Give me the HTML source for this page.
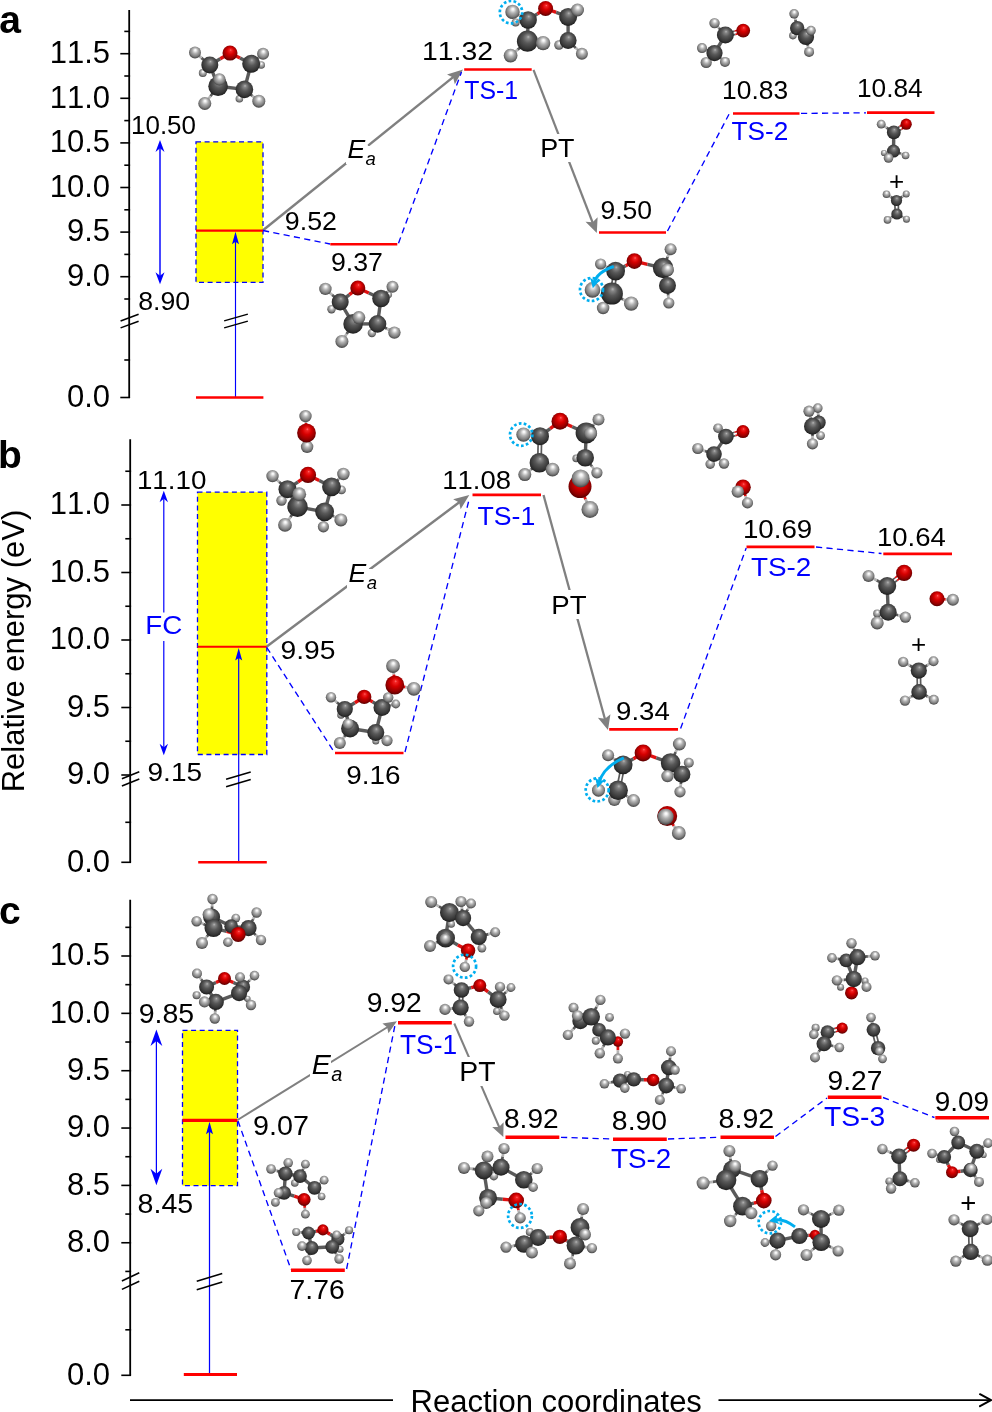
<!DOCTYPE html>
<html lang="en"><head><meta charset="utf-8"><title>Reaction energy profiles</title>
<style>
html,body{margin:0;padding:0;background:#fff}
svg{display:block;font-family:"Liberation Sans",sans-serif;font-kerning:none}
</style></head><body>
<svg width="992" height="1412" viewBox="0 0 992 1412">
<rect width="992" height="1412" fill="#fff"/>
<!-- panel a -->
<text x="-0.77" y="32.80" font-size="39.00" fill="#000" font-weight="bold">a</text>
<rect x="196" y="141.8" width="67" height="140.6" fill="#ffff00"/>
<rect x="196" y="141.8" width="67" height="140.6" fill="none" stroke="#0000ff" stroke-width="1.3" stroke-dasharray="5 3.6"/>
<line x1="129.20" y1="10.00" x2="129.20" y2="397.50" stroke="#000" stroke-width="1.80" stroke-linecap="butt"/>
<line x1="120.30" y1="53.70" x2="130.10" y2="53.70" stroke="#000" stroke-width="1.60" stroke-linecap="butt"/>
<text x="49.74" y="62.90" font-size="31.00" fill="#000">11.5</text>
<line x1="120.30" y1="98.30" x2="130.10" y2="98.30" stroke="#000" stroke-width="1.60" stroke-linecap="butt"/>
<text x="49.66" y="107.50" font-size="31.00" fill="#000">11.0</text>
<line x1="120.30" y1="142.90" x2="130.10" y2="142.90" stroke="#000" stroke-width="1.60" stroke-linecap="butt"/>
<text x="49.74" y="152.10" font-size="31.00" fill="#000">10.5</text>
<line x1="120.30" y1="187.50" x2="130.10" y2="187.50" stroke="#000" stroke-width="1.60" stroke-linecap="butt"/>
<text x="49.66" y="196.70" font-size="31.00" fill="#000">10.0</text>
<line x1="120.30" y1="232.10" x2="130.10" y2="232.10" stroke="#000" stroke-width="1.60" stroke-linecap="butt"/>
<text x="66.98" y="241.30" font-size="31.00" fill="#000">9.5</text>
<line x1="120.30" y1="276.70" x2="130.10" y2="276.70" stroke="#000" stroke-width="1.60" stroke-linecap="butt"/>
<text x="66.90" y="285.90" font-size="31.00" fill="#000">9.0</text>
<line x1="120.30" y1="397.50" x2="130.10" y2="397.50" stroke="#000" stroke-width="1.60" stroke-linecap="butt"/>
<text x="66.90" y="406.70" font-size="31.00" fill="#000">0.0</text>
<line x1="124.30" y1="31.40" x2="130.10" y2="31.40" stroke="#000" stroke-width="1.60" stroke-linecap="butt"/>
<line x1="124.30" y1="76.00" x2="130.10" y2="76.00" stroke="#000" stroke-width="1.60" stroke-linecap="butt"/>
<line x1="124.30" y1="120.60" x2="130.10" y2="120.60" stroke="#000" stroke-width="1.60" stroke-linecap="butt"/>
<line x1="124.30" y1="165.20" x2="130.10" y2="165.20" stroke="#000" stroke-width="1.60" stroke-linecap="butt"/>
<line x1="124.30" y1="209.80" x2="130.10" y2="209.80" stroke="#000" stroke-width="1.60" stroke-linecap="butt"/>
<line x1="124.30" y1="254.40" x2="130.10" y2="254.40" stroke="#000" stroke-width="1.60" stroke-linecap="butt"/>
<line x1="124.30" y1="299.00" x2="130.10" y2="299.00" stroke="#000" stroke-width="1.60" stroke-linecap="butt"/>
<line x1="124.30" y1="360.00" x2="130.10" y2="360.00" stroke="#000" stroke-width="1.60" stroke-linecap="butt"/>
<line x1="120.60" y1="321.00" x2="138.60" y2="314.30" stroke="#000" stroke-width="1.50" stroke-linecap="butt"/>
<line x1="120.60" y1="327.90" x2="138.60" y2="321.20" stroke="#000" stroke-width="1.50" stroke-linecap="butt"/>
<text x="131.05" y="134.00" font-size="26.50" fill="#000" textLength="64.95" lengthAdjust="spacingAndGlyphs">10.50</text>
<text x="138.17" y="309.50" font-size="26.50" fill="#000" textLength="51.86" lengthAdjust="spacingAndGlyphs">8.90</text>
<line x1="160.00" y1="148.00" x2="160.00" y2="277.00" stroke="#0000ff" stroke-width="1.45" stroke-linecap="butt"/>
<polygon points="160.00,139.90 164.50,151.90 160.00,148.30 155.50,151.90" fill="#0000ff"/>
<polygon points="160.00,284.20 155.50,272.20 160.00,275.80 164.50,272.20" fill="#0000ff"/>
<line x1="235.50" y1="397.50" x2="235.50" y2="240.00" stroke="#0000ff" stroke-width="1.15" stroke-linecap="butt"/>
<polygon points="235.50,231.80 239.00,244.30 235.50,241.80 232.00,244.30" fill="#0000ff"/>
<line x1="224.15" y1="320.85" x2="247.85" y2="314.15" stroke="#000" stroke-width="1.50" stroke-linecap="butt"/>
<line x1="224.15" y1="327.85" x2="247.85" y2="321.15" stroke="#000" stroke-width="1.50" stroke-linecap="butt"/>
<line x1="196.00" y1="230.60" x2="263.00" y2="230.60" stroke="#ff0000" stroke-width="2.10" stroke-linecap="butt"/>
<line x1="196.00" y1="397.50" x2="263.40" y2="397.50" stroke="#ff0000" stroke-width="2.60" stroke-linecap="butt"/>
<line x1="263.00" y1="230.30" x2="455.00" y2="75.60" stroke="#808080" stroke-width="2.45" stroke-linecap="butt"/>
<polygon points="463.00,69.60 454.84,84.19 453.10,77.57 447.01,74.45" fill="#808080"/>
<polygon points="346,164 346,139 366,139 368,146 377,146 377,150 366,164" fill="#fff"/>
<text x="347.40" y="158.00" font-size="26.50" fill="#000" font-style="italic">E</text>
<text x="365.59" y="165.00" font-size="18.50" fill="#000" font-style="italic">a</text>
<text x="284.80" y="230.40" font-size="26.50" fill="#000" textLength="52.11" lengthAdjust="spacingAndGlyphs">9.52</text>
<line x1="263.00" y1="230.50" x2="330.00" y2="244.00" stroke="#0000ff" stroke-width="1.35" stroke-dasharray="6.2 4.3" stroke-linecap="butt"/>
<line x1="330.30" y1="244.20" x2="397.30" y2="244.20" stroke="#ff0000" stroke-width="2.65" stroke-linecap="butt"/>
<text x="330.90" y="271.20" font-size="26.50" fill="#000" textLength="52.00" lengthAdjust="spacingAndGlyphs">9.37</text>
<line x1="398.50" y1="243.20" x2="461.50" y2="72.00" stroke="#0000ff" stroke-width="1.35" stroke-dasharray="6.2 4.3" stroke-linecap="butt"/>
<text x="421.97" y="60.00" font-size="26.50" fill="#000" textLength="71.01" lengthAdjust="spacingAndGlyphs">11.32</text>
<line x1="464.20" y1="69.50" x2="531.70" y2="69.50" stroke="#ff0000" stroke-width="2.65" stroke-linecap="butt"/>
<text x="464.30" y="99.30" font-size="26.50" fill="#0000ff" textLength="53.91" lengthAdjust="spacingAndGlyphs">TS-1</text>
<line x1="533.50" y1="69.80" x2="593.20" y2="224.00" stroke="#808080" stroke-width="2.20" stroke-linecap="butt"/>
<polygon points="596.80,233.00 585.50,221.83 592.61,222.19 597.62,217.13" fill="#808080"/>
<rect x="540" y="134" width="37" height="28" fill="#fff"/>
<text x="540.15" y="157.00" font-size="26.50" fill="#000" textLength="34.42" lengthAdjust="spacingAndGlyphs">PT</text>
<text x="600.41" y="218.80" font-size="26.50" fill="#000" textLength="51.62" lengthAdjust="spacingAndGlyphs">9.50</text>
<line x1="599.00" y1="232.50" x2="666.00" y2="232.50" stroke="#ff0000" stroke-width="2.65" stroke-linecap="butt"/>
<line x1="667.50" y1="231.00" x2="729.00" y2="114.30" stroke="#0000ff" stroke-width="1.35" stroke-dasharray="6.2 4.3" stroke-linecap="butt"/>
<text x="722.12" y="98.80" font-size="26.50" fill="#000" textLength="66.03" lengthAdjust="spacingAndGlyphs">10.83</text>
<line x1="733.00" y1="113.50" x2="799.50" y2="113.50" stroke="#ff0000" stroke-width="2.65" stroke-linecap="butt"/>
<text x="731.48" y="140.00" font-size="26.50" fill="#0000ff" textLength="56.80" lengthAdjust="spacingAndGlyphs">TS-2</text>
<line x1="801.00" y1="113.40" x2="866.00" y2="112.80" stroke="#0000ff" stroke-width="1.35" stroke-dasharray="6.2 4.3" stroke-linecap="butt"/>
<text x="857.03" y="97.00" font-size="26.50" fill="#000" textLength="65.72" lengthAdjust="spacingAndGlyphs">10.84</text>
<line x1="867.00" y1="112.60" x2="934.50" y2="112.60" stroke="#ff0000" stroke-width="2.65" stroke-linecap="butt"/>
<text x="888.93" y="189.60" font-size="26.00" fill="#000">+</text>
<!-- panel b -->
<text x="-1.94" y="468.20" font-size="39.00" fill="#000" font-weight="bold">b</text>
<rect x="197.5" y="492.2" width="69.3" height="262.3" fill="#ffff00"/>
<rect x="197.5" y="492.2" width="69.3" height="262.3" fill="none" stroke="#0000ff" stroke-width="1.3" stroke-dasharray="5 3.6"/>
<line x1="130.20" y1="439.30" x2="130.20" y2="862.30" stroke="#000" stroke-width="1.80" stroke-linecap="butt"/>
<line x1="121.30" y1="505.00" x2="131.10" y2="505.00" stroke="#000" stroke-width="1.60" stroke-linecap="butt"/>
<text x="49.66" y="514.20" font-size="31.00" fill="#000">11.0</text>
<line x1="121.30" y1="572.50" x2="131.10" y2="572.50" stroke="#000" stroke-width="1.60" stroke-linecap="butt"/>
<text x="49.74" y="581.70" font-size="31.00" fill="#000">10.5</text>
<line x1="121.30" y1="640.00" x2="131.10" y2="640.00" stroke="#000" stroke-width="1.60" stroke-linecap="butt"/>
<text x="49.66" y="649.20" font-size="31.00" fill="#000">10.0</text>
<line x1="121.30" y1="707.50" x2="131.10" y2="707.50" stroke="#000" stroke-width="1.60" stroke-linecap="butt"/>
<text x="66.98" y="716.70" font-size="31.00" fill="#000">9.5</text>
<line x1="121.30" y1="775.00" x2="131.10" y2="775.00" stroke="#000" stroke-width="1.60" stroke-linecap="butt"/>
<text x="66.90" y="784.20" font-size="31.00" fill="#000">9.0</text>
<line x1="121.30" y1="862.30" x2="131.10" y2="862.30" stroke="#000" stroke-width="1.60" stroke-linecap="butt"/>
<text x="66.90" y="871.50" font-size="31.00" fill="#000">0.0</text>
<line x1="125.30" y1="471.25" x2="131.10" y2="471.25" stroke="#000" stroke-width="1.60" stroke-linecap="butt"/>
<line x1="125.30" y1="538.75" x2="131.10" y2="538.75" stroke="#000" stroke-width="1.60" stroke-linecap="butt"/>
<line x1="125.30" y1="606.25" x2="131.10" y2="606.25" stroke="#000" stroke-width="1.60" stroke-linecap="butt"/>
<line x1="125.30" y1="673.75" x2="131.10" y2="673.75" stroke="#000" stroke-width="1.60" stroke-linecap="butt"/>
<line x1="125.30" y1="741.25" x2="131.10" y2="741.25" stroke="#000" stroke-width="1.60" stroke-linecap="butt"/>
<line x1="125.30" y1="822.30" x2="131.10" y2="822.30" stroke="#000" stroke-width="1.60" stroke-linecap="butt"/>
<line x1="121.90" y1="778.65" x2="139.30" y2="771.65" stroke="#000" stroke-width="1.60" stroke-linecap="butt"/>
<line x1="121.90" y1="785.95" x2="139.30" y2="778.95" stroke="#000" stroke-width="1.60" stroke-linecap="butt"/>
<text x="136.92" y="488.70" font-size="26.50" fill="#000" textLength="69.56" lengthAdjust="spacingAndGlyphs">11.10</text>
<text x="147.54" y="781.30" font-size="26.50" fill="#000" textLength="54.51" lengthAdjust="spacingAndGlyphs">9.15</text>
<line x1="163.80" y1="499.00" x2="163.80" y2="612.50" stroke="#0000ff" stroke-width="1.20" stroke-linecap="butt"/>
<line x1="163.80" y1="641.00" x2="163.80" y2="748.00" stroke="#0000ff" stroke-width="1.20" stroke-linecap="butt"/>
<polygon points="163.80,490.80 168.00,502.30 163.80,498.85 159.60,502.30" fill="#0000ff"/>
<polygon points="163.80,755.30 159.60,743.80 163.80,747.25 168.00,743.80" fill="#0000ff"/>
<text x="145.28" y="634.30" font-size="26.50" fill="#0000ff" textLength="37.06" lengthAdjust="spacingAndGlyphs">FC</text>
<line x1="238.70" y1="862.30" x2="238.70" y2="656.00" stroke="#0000ff" stroke-width="1.20" stroke-linecap="butt"/>
<polygon points="238.70,648.00 242.20,660.50 238.70,658.00 235.20,660.50" fill="#0000ff"/>
<line x1="226.10" y1="779.35" x2="250.70" y2="772.05" stroke="#000" stroke-width="1.60" stroke-linecap="butt"/>
<line x1="226.10" y1="786.75" x2="250.70" y2="779.45" stroke="#000" stroke-width="1.60" stroke-linecap="butt"/>
<line x1="197.50" y1="646.80" x2="266.80" y2="646.80" stroke="#ff0000" stroke-width="2.10" stroke-linecap="butt"/>
<line x1="198.20" y1="862.30" x2="266.80" y2="862.30" stroke="#ff0000" stroke-width="2.60" stroke-linecap="butt"/>
<line x1="266.80" y1="646.40" x2="461.00" y2="501.00" stroke="#808080" stroke-width="2.45" stroke-linecap="butt"/>
<polygon points="469.30,495.00 460.64,509.29 459.13,502.62 453.15,499.29" fill="#808080"/>
<polygon points="347,588 347,562 367,562 369,569 378,569 378,573 367,588" fill="#fff"/>
<text x="348.50" y="581.80" font-size="26.50" fill="#000" font-style="italic">E</text>
<text x="366.69" y="588.80" font-size="18.50" fill="#000" font-style="italic">a</text>
<text x="280.53" y="658.50" font-size="26.50" fill="#000" textLength="54.93" lengthAdjust="spacingAndGlyphs">9.95</text>
<line x1="266.80" y1="647.50" x2="334.50" y2="752.50" stroke="#0000ff" stroke-width="1.35" stroke-dasharray="6.2 4.3" stroke-linecap="butt"/>
<line x1="335.00" y1="753.00" x2="403.50" y2="753.00" stroke="#ff0000" stroke-width="2.65" stroke-linecap="butt"/>
<text x="346.25" y="783.50" font-size="26.50" fill="#000" textLength="54.27" lengthAdjust="spacingAndGlyphs">9.16</text>
<line x1="405.00" y1="752.00" x2="469.50" y2="498.00" stroke="#0000ff" stroke-width="1.35" stroke-dasharray="6.2 4.3" stroke-linecap="butt"/>
<text x="442.24" y="488.50" font-size="26.50" fill="#000" textLength="68.69" lengthAdjust="spacingAndGlyphs">11.08</text>
<line x1="472.50" y1="494.80" x2="541.00" y2="494.80" stroke="#ff0000" stroke-width="2.65" stroke-linecap="butt"/>
<text x="477.47" y="525.00" font-size="26.50" fill="#0000ff" textLength="57.83" lengthAdjust="spacingAndGlyphs">TS-1</text>
<line x1="543.50" y1="495.00" x2="605.20" y2="720.00" stroke="#808080" stroke-width="2.30" stroke-linecap="butt"/>
<polygon points="608.00,730.00 597.89,717.74 604.93,718.81 610.43,714.30" fill="#808080"/>
<rect x="551" y="590" width="37" height="29" fill="#fff"/>
<text x="551.29" y="613.50" font-size="26.50" fill="#000" textLength="35.29" lengthAdjust="spacingAndGlyphs">PT</text>
<text x="616.06" y="719.80" font-size="26.50" fill="#000" textLength="53.73" lengthAdjust="spacingAndGlyphs">9.34</text>
<line x1="609.20" y1="729.40" x2="678.00" y2="729.40" stroke="#ff0000" stroke-width="2.65" stroke-linecap="butt"/>
<line x1="680.60" y1="728.50" x2="746.20" y2="548.00" stroke="#0000ff" stroke-width="1.35" stroke-dasharray="6.2 4.3" stroke-linecap="butt"/>
<text x="742.92" y="537.50" font-size="26.50" fill="#000" textLength="69.36" lengthAdjust="spacingAndGlyphs">10.69</text>
<line x1="746.50" y1="546.80" x2="814.50" y2="546.80" stroke="#ff0000" stroke-width="2.65" stroke-linecap="butt"/>
<text x="750.94" y="576.30" font-size="26.50" fill="#0000ff" textLength="60.41" lengthAdjust="spacingAndGlyphs">TS-2</text>
<line x1="816.00" y1="547.00" x2="881.50" y2="553.50" stroke="#0000ff" stroke-width="1.35" stroke-dasharray="6.2 4.3" stroke-linecap="butt"/>
<text x="876.94" y="545.50" font-size="26.50" fill="#000" textLength="68.85" lengthAdjust="spacingAndGlyphs">10.64</text>
<line x1="883.30" y1="553.80" x2="952.00" y2="553.80" stroke="#ff0000" stroke-width="2.65" stroke-linecap="butt"/>
<text x="910.93" y="653.20" font-size="26.00" fill="#000">+</text>
<!-- panel c -->
<text x="-1.06" y="923.80" font-size="39.00" fill="#000" font-weight="bold">c</text>
<rect x="182.5" y="1030.3" width="55" height="155.4" fill="#ffff00"/>
<rect x="182.5" y="1030.3" width="55" height="155.4" fill="none" stroke="#0000ff" stroke-width="1.3" stroke-dasharray="5 3.6"/>
<line x1="130.20" y1="899.80" x2="130.20" y2="1375.30" stroke="#000" stroke-width="1.80" stroke-linecap="butt"/>
<line x1="121.30" y1="956.00" x2="131.10" y2="956.00" stroke="#000" stroke-width="1.60" stroke-linecap="butt"/>
<text x="49.74" y="965.20" font-size="31.00" fill="#000">10.5</text>
<line x1="121.30" y1="1013.35" x2="131.10" y2="1013.35" stroke="#000" stroke-width="1.60" stroke-linecap="butt"/>
<text x="49.66" y="1022.55" font-size="31.00" fill="#000">10.0</text>
<line x1="121.30" y1="1070.70" x2="131.10" y2="1070.70" stroke="#000" stroke-width="1.60" stroke-linecap="butt"/>
<text x="66.98" y="1079.90" font-size="31.00" fill="#000">9.5</text>
<line x1="121.30" y1="1128.05" x2="131.10" y2="1128.05" stroke="#000" stroke-width="1.60" stroke-linecap="butt"/>
<text x="66.90" y="1137.25" font-size="31.00" fill="#000">9.0</text>
<line x1="121.30" y1="1185.40" x2="131.10" y2="1185.40" stroke="#000" stroke-width="1.60" stroke-linecap="butt"/>
<text x="66.98" y="1194.60" font-size="31.00" fill="#000">8.5</text>
<line x1="121.30" y1="1242.75" x2="131.10" y2="1242.75" stroke="#000" stroke-width="1.60" stroke-linecap="butt"/>
<text x="66.90" y="1251.95" font-size="31.00" fill="#000">8.0</text>
<line x1="121.30" y1="1375.30" x2="131.10" y2="1375.30" stroke="#000" stroke-width="1.60" stroke-linecap="butt"/>
<text x="66.90" y="1384.50" font-size="31.00" fill="#000">0.0</text>
<line x1="125.30" y1="927.33" x2="131.10" y2="927.33" stroke="#000" stroke-width="1.60" stroke-linecap="butt"/>
<line x1="125.30" y1="984.67" x2="131.10" y2="984.67" stroke="#000" stroke-width="1.60" stroke-linecap="butt"/>
<line x1="125.30" y1="1042.03" x2="131.10" y2="1042.03" stroke="#000" stroke-width="1.60" stroke-linecap="butt"/>
<line x1="125.30" y1="1099.38" x2="131.10" y2="1099.38" stroke="#000" stroke-width="1.60" stroke-linecap="butt"/>
<line x1="125.30" y1="1156.72" x2="131.10" y2="1156.72" stroke="#000" stroke-width="1.60" stroke-linecap="butt"/>
<line x1="125.30" y1="1214.08" x2="131.10" y2="1214.08" stroke="#000" stroke-width="1.60" stroke-linecap="butt"/>
<line x1="125.30" y1="1271.42" x2="131.10" y2="1271.42" stroke="#000" stroke-width="1.60" stroke-linecap="butt"/>
<line x1="125.30" y1="1329.80" x2="131.10" y2="1329.80" stroke="#000" stroke-width="1.60" stroke-linecap="butt"/>
<line x1="121.90" y1="1281.00" x2="139.30" y2="1272.80" stroke="#000" stroke-width="1.60" stroke-linecap="butt"/>
<line x1="121.90" y1="1289.40" x2="139.30" y2="1281.20" stroke="#000" stroke-width="1.60" stroke-linecap="butt"/>
<text x="138.72" y="1022.90" font-size="27.40" fill="#000" textLength="55.46" lengthAdjust="spacingAndGlyphs">9.85</text>
<text x="137.59" y="1213.40" font-size="27.40" fill="#000" textLength="55.59" lengthAdjust="spacingAndGlyphs">8.45</text>
<line x1="156.40" y1="1040.00" x2="156.40" y2="1176.00" stroke="#0000ff" stroke-width="1.25" stroke-linecap="butt"/>
<polygon points="156.40,1029.40 162.30,1045.90 156.40,1040.95 150.50,1045.90" fill="#0000ff"/>
<polygon points="156.40,1185.20 150.50,1168.70 156.40,1173.65 162.30,1168.70" fill="#0000ff"/>
<line x1="209.50" y1="1374.00" x2="209.50" y2="1130.00" stroke="#0000ff" stroke-width="1.25" stroke-linecap="butt"/>
<polygon points="209.50,1121.70 213.00,1134.20 209.50,1131.70 206.00,1134.20" fill="#0000ff"/>
<line x1="196.75" y1="1281.15" x2="222.25" y2="1273.45" stroke="#000" stroke-width="1.60" stroke-linecap="butt"/>
<line x1="196.75" y1="1289.75" x2="222.25" y2="1282.05" stroke="#000" stroke-width="1.60" stroke-linecap="butt"/>
<line x1="182.50" y1="1120.30" x2="237.50" y2="1120.30" stroke="#ff0000" stroke-width="3.20" stroke-linecap="butt"/>
<line x1="183.80" y1="1374.50" x2="237.00" y2="1374.50" stroke="#ff0000" stroke-width="3.20" stroke-linecap="butt"/>
<line x1="237.50" y1="1120.00" x2="388.50" y2="1026.50" stroke="#808080" stroke-width="2.00" stroke-linecap="butt"/>
<polygon points="396.90,1021.30 388.45,1033.30 387.14,1027.34 382.40,1023.52" fill="#808080"/>
<polygon points="310,1080 310,1054 330,1054 331,1061 331,1067 322,1080" fill="#fff"/>
<text x="311.75" y="1074.00" font-size="28.50" fill="#000" font-style="italic">E</text>
<text x="331.25" y="1081.00" font-size="20.00" fill="#000" font-style="italic">a</text>
<text x="253.01" y="1134.60" font-size="27.40" fill="#000" textLength="55.89" lengthAdjust="spacingAndGlyphs">9.07</text>
<line x1="238.00" y1="1121.00" x2="291.00" y2="1269.50" stroke="#0000ff" stroke-width="1.35" stroke-dasharray="6.2 4.3" stroke-linecap="butt"/>
<line x1="291.00" y1="1270.30" x2="344.80" y2="1270.30" stroke="#ff0000" stroke-width="3.40" stroke-linecap="butt"/>
<text x="289.58" y="1299.10" font-size="27.40" fill="#000" textLength="55.15" lengthAdjust="spacingAndGlyphs">7.76</text>
<line x1="346.60" y1="1269.00" x2="395.00" y2="1025.00" stroke="#0000ff" stroke-width="1.35" stroke-dasharray="6.2 4.3" stroke-linecap="butt"/>
<text x="366.72" y="1012.10" font-size="27.40" fill="#000" textLength="55.15" lengthAdjust="spacingAndGlyphs">9.92</text>
<line x1="398.00" y1="1022.80" x2="451.80" y2="1022.80" stroke="#ff0000" stroke-width="3.40" stroke-linecap="butt"/>
<text x="399.97" y="1053.90" font-size="27.40" fill="#0000ff" textLength="57.11" lengthAdjust="spacingAndGlyphs">TS-1</text>
<line x1="454.30" y1="1023.50" x2="499.80" y2="1128.50" stroke="#808080" stroke-width="2.00" stroke-linecap="butt"/>
<polygon points="503.30,1137.00 492.18,1127.12 498.99,1127.10 503.64,1122.13" fill="#808080"/>
<rect x="458" y="1057" width="36" height="29" fill="#fff"/>
<text x="459.33" y="1081.40" font-size="27.40" fill="#000" textLength="36.26" lengthAdjust="spacingAndGlyphs">PT</text>
<text x="504.01" y="1127.70" font-size="27.40" fill="#000" textLength="54.66" lengthAdjust="spacingAndGlyphs">8.92</text>
<line x1="505.50" y1="1137.30" x2="559.30" y2="1137.30" stroke="#ff0000" stroke-width="3.40" stroke-linecap="butt"/>
<line x1="561.00" y1="1137.30" x2="612.00" y2="1139.00" stroke="#0000ff" stroke-width="1.35" stroke-dasharray="6.2 4.3" stroke-linecap="butt"/>
<text x="611.89" y="1130.10" font-size="27.40" fill="#000" textLength="55.20" lengthAdjust="spacingAndGlyphs">8.90</text>
<line x1="613.00" y1="1139.30" x2="666.80" y2="1139.30" stroke="#ff0000" stroke-width="3.40" stroke-linecap="butt"/>
<text x="610.94" y="1168.40" font-size="27.40" fill="#0000ff" textLength="60.21" lengthAdjust="spacingAndGlyphs">TS-2</text>
<line x1="668.00" y1="1139.00" x2="719.50" y2="1137.30" stroke="#0000ff" stroke-width="1.35" stroke-dasharray="6.2 4.3" stroke-linecap="butt"/>
<text x="718.59" y="1127.60" font-size="27.40" fill="#000" textLength="55.60" lengthAdjust="spacingAndGlyphs">8.92</text>
<line x1="720.50" y1="1137.30" x2="774.00" y2="1137.30" stroke="#ff0000" stroke-width="3.40" stroke-linecap="butt"/>
<line x1="775.50" y1="1136.50" x2="827.00" y2="1098.00" stroke="#0000ff" stroke-width="1.35" stroke-dasharray="6.2 4.3" stroke-linecap="butt"/>
<text x="827.53" y="1089.50" font-size="27.40" fill="#000" textLength="54.84" lengthAdjust="spacingAndGlyphs">9.27</text>
<line x1="827.80" y1="1097.30" x2="881.50" y2="1097.30" stroke="#ff0000" stroke-width="3.40" stroke-linecap="butt"/>
<text x="823.93" y="1125.60" font-size="27.40" fill="#0000ff" textLength="61.30" lengthAdjust="spacingAndGlyphs">TS-3</text>
<line x1="883.00" y1="1097.50" x2="934.50" y2="1117.50" stroke="#0000ff" stroke-width="1.35" stroke-dasharray="6.2 4.3" stroke-linecap="butt"/>
<text x="934.74" y="1110.90" font-size="27.40" fill="#000" textLength="54.35" lengthAdjust="spacingAndGlyphs">9.09</text>
<line x1="935.30" y1="1117.80" x2="989.00" y2="1117.80" stroke="#ff0000" stroke-width="3.40" stroke-linecap="butt"/>
<text x="960.29" y="1212.20" font-size="27.50" fill="#000">+</text>
<text transform="translate(23.7 792.3) rotate(-90)" font-size="31" fill="#000">Relative energy (eV)</text>
<text x="410.52" y="1411.60" font-size="31.00" fill="#000" textLength="291.37" lengthAdjust="spacingAndGlyphs">Reaction coordinates</text>
<line x1="130.00" y1="1400.20" x2="393.00" y2="1400.20" stroke="#000" stroke-width="1.70" stroke-linecap="butt"/>
<line x1="718.50" y1="1400.20" x2="990.00" y2="1400.20" stroke="#000" stroke-width="1.70" stroke-linecap="butt"/>
<polyline points="980.00,1406.20 991.00,1400.20 980.00,1394.20" fill="none" stroke="#000" stroke-width="2.00" stroke-linejoin="miter" stroke-linecap="round"/>
<defs>
<radialGradient id="gC" cx="0.5" cy="0.45" r="0.58" fx="0.54" fy="0.29">
<stop offset="0" stop-color="#b6b6b6"/><stop offset="0.14" stop-color="#868686"/><stop offset="0.42" stop-color="#585858"/><stop offset="0.78" stop-color="#363636"/><stop offset="1" stop-color="#161616"/></radialGradient>
<radialGradient id="gH" cx="0.5" cy="0.45" r="0.58" fx="0.53" fy="0.29">
<stop offset="0" stop-color="#ffffff"/><stop offset="0.12" stop-color="#f4f4f4"/><stop offset="0.4" stop-color="#b4b4b4"/><stop offset="0.72" stop-color="#808080"/><stop offset="1" stop-color="#383838"/></radialGradient>
<radialGradient id="gO" cx="0.5" cy="0.45" r="0.58" fx="0.55" fy="0.29">
<stop offset="0" stop-color="#ff7474"/><stop offset="0.12" stop-color="#f22424"/><stop offset="0.4" stop-color="#d60000"/><stop offset="0.75" stop-color="#960000"/><stop offset="1" stop-color="#4c0000"/></radialGradient>
</defs>
<g>
<line x1="209.8" y1="65.0" x2="220.3" y2="58.8" stroke="#5a5a5a" stroke-width="3.4"/>
<line x1="220.3" y1="58.8" x2="230.0" y2="53.1" stroke="#e01010" stroke-width="3.4"/>
<line x1="251.2" y1="63.8" x2="240.0" y2="58.1" stroke="#5a5a5a" stroke-width="3.4"/>
<line x1="240.0" y1="58.1" x2="230.0" y2="53.1" stroke="#e01010" stroke-width="3.4"/>
<line x1="209.8" y1="65.0" x2="218.1" y2="86.2" stroke="#5a5a5a" stroke-width="3.4"/>
<line x1="251.2" y1="63.8" x2="244.4" y2="89.4" stroke="#5a5a5a" stroke-width="3.4"/>
<line x1="244.4" y1="89.4" x2="218.1" y2="86.2" stroke="#5a5a5a" stroke-width="3.4"/>
<line x1="209.8" y1="65.0" x2="201.4" y2="57.9" stroke="#5a5a5a" stroke-width="2.7"/>
<line x1="201.4" y1="57.9" x2="195.0" y2="52.5" stroke="#b4b4b4" stroke-width="2.7"/>
<line x1="251.2" y1="63.8" x2="258.3" y2="57.8" stroke="#5a5a5a" stroke-width="2.7"/>
<line x1="258.3" y1="57.8" x2="263.1" y2="53.8" stroke="#b4b4b4" stroke-width="2.7"/>
<line x1="218.1" y1="86.2" x2="210.4" y2="96.2" stroke="#5a5a5a" stroke-width="2.7"/>
<line x1="210.4" y1="96.2" x2="204.8" y2="103.5" stroke="#b4b4b4" stroke-width="2.7"/>
<line x1="244.4" y1="89.4" x2="252.4" y2="96.0" stroke="#5a5a5a" stroke-width="2.7"/>
<line x1="252.4" y1="96.0" x2="258.8" y2="101.2" stroke="#b4b4b4" stroke-width="2.7"/>
<line x1="209.8" y1="65.0" x2="204.8" y2="70.8" stroke="#5a5a5a" stroke-width="2.7"/>
<line x1="204.8" y1="70.8" x2="202.8" y2="73.1" stroke="#b4b4b4" stroke-width="2.7"/>
<line x1="251.2" y1="63.8" x2="258.9" y2="64.7" stroke="#5a5a5a" stroke-width="2.7"/>
<line x1="258.9" y1="64.7" x2="261.2" y2="65.0" stroke="#b4b4b4" stroke-width="2.7"/>
<line x1="244.4" y1="89.4" x2="240.7" y2="96.3" stroke="#5a5a5a" stroke-width="2.7"/>
<line x1="240.7" y1="96.3" x2="239.4" y2="98.8" stroke="#b4b4b4" stroke-width="2.7"/>
<circle cx="202.8" cy="73.1" r="4.0" fill="url(#gH)"/>
<circle cx="261.2" cy="65.0" r="3.8" fill="url(#gH)"/>
<circle cx="239.4" cy="98.8" r="3.8" fill="url(#gH)"/>
<circle cx="209.8" cy="65.0" r="8.5" fill="url(#gC)"/>
<circle cx="251.2" cy="63.8" r="9.0" fill="url(#gC)"/>
<circle cx="230.0" cy="53.1" r="7.5" fill="url(#gO)"/>
<circle cx="244.4" cy="89.4" r="8.8" fill="url(#gC)"/>
<circle cx="218.1" cy="86.2" r="9.8" fill="url(#gC)"/>
<circle cx="195.0" cy="52.5" r="6.0" fill="url(#gH)"/>
<circle cx="263.1" cy="53.8" r="6.0" fill="url(#gH)"/>
<circle cx="219.4" cy="79.4" r="6.2" fill="url(#gH)"/>
<circle cx="204.8" cy="103.5" r="6.5" fill="url(#gH)"/>
<circle cx="258.8" cy="101.2" r="6.5" fill="url(#gH)"/>
</g>
<g>
<line x1="340.2" y1="302.0" x2="349.4" y2="294.7" stroke="#5a5a5a" stroke-width="3.4"/>
<line x1="349.4" y1="294.7" x2="357.8" y2="288.0" stroke="#e01010" stroke-width="3.4"/>
<line x1="381.0" y1="298.5" x2="368.8" y2="293.0" stroke="#5a5a5a" stroke-width="3.4"/>
<line x1="368.8" y1="293.0" x2="357.8" y2="288.0" stroke="#e01010" stroke-width="3.4"/>
<line x1="340.2" y1="302.0" x2="353.1" y2="323.9" stroke="#5a5a5a" stroke-width="3.4"/>
<line x1="381.0" y1="298.5" x2="377.5" y2="323.9" stroke="#5a5a5a" stroke-width="3.4"/>
<line x1="377.5" y1="323.9" x2="353.1" y2="323.9" stroke="#5a5a5a" stroke-width="3.4"/>
<line x1="340.2" y1="302.0" x2="332.0" y2="294.7" stroke="#5a5a5a" stroke-width="2.7"/>
<line x1="332.0" y1="294.7" x2="325.4" y2="288.9" stroke="#b4b4b4" stroke-width="2.7"/>
<line x1="381.0" y1="298.5" x2="387.7" y2="291.6" stroke="#5a5a5a" stroke-width="2.7"/>
<line x1="387.7" y1="291.6" x2="392.5" y2="286.8" stroke="#b4b4b4" stroke-width="2.7"/>
<line x1="353.1" y1="323.9" x2="346.6" y2="334.0" stroke="#5a5a5a" stroke-width="2.7"/>
<line x1="346.6" y1="334.0" x2="341.9" y2="341.4" stroke="#b4b4b4" stroke-width="2.7"/>
<line x1="377.5" y1="323.9" x2="387.0" y2="328.8" stroke="#5a5a5a" stroke-width="2.7"/>
<line x1="387.0" y1="328.8" x2="394.4" y2="332.6" stroke="#b4b4b4" stroke-width="2.7"/>
<line x1="340.2" y1="302.0" x2="334.2" y2="307.0" stroke="#5a5a5a" stroke-width="2.7"/>
<line x1="334.2" y1="307.0" x2="331.5" y2="309.2" stroke="#b4b4b4" stroke-width="2.7"/>
<line x1="377.5" y1="323.9" x2="373.5" y2="330.4" stroke="#5a5a5a" stroke-width="2.7"/>
<line x1="373.5" y1="330.4" x2="371.9" y2="333.0" stroke="#b4b4b4" stroke-width="2.7"/>
<circle cx="331.5" cy="309.2" r="4.2" fill="url(#gH)"/>
<circle cx="389.0" cy="294.8" r="3.1" fill="url(#gH)"/>
<circle cx="371.9" cy="333.0" r="4.2" fill="url(#gH)"/>
<circle cx="340.2" cy="302.0" r="8.5" fill="url(#gC)"/>
<circle cx="381.0" cy="298.5" r="8.8" fill="url(#gC)"/>
<circle cx="357.8" cy="288.0" r="7.5" fill="url(#gO)"/>
<circle cx="377.5" cy="323.9" r="8.8" fill="url(#gC)"/>
<circle cx="353.1" cy="323.9" r="9.8" fill="url(#gC)"/>
<circle cx="325.4" cy="288.9" r="6.2" fill="url(#gH)"/>
<circle cx="392.5" cy="286.8" r="6.0" fill="url(#gH)"/>
<circle cx="358.8" cy="317.6" r="6.5" fill="url(#gH)"/>
<circle cx="341.9" cy="341.4" r="6.5" fill="url(#gH)"/>
<circle cx="394.4" cy="332.6" r="6.2" fill="url(#gH)"/>
</g>
<g>
<line x1="528.1" y1="20.0" x2="537.4" y2="13.9" stroke="#5a5a5a" stroke-width="3.4"/>
<line x1="537.4" y1="13.9" x2="545.6" y2="8.5" stroke="#e01010" stroke-width="3.4"/>
<line x1="545.6" y1="8.5" x2="556.2" y2="12.4" stroke="#e01010" stroke-width="3.4"/>
<line x1="556.2" y1="12.4" x2="568.1" y2="16.9" stroke="#5a5a5a" stroke-width="3.4"/>
<line x1="528.1" y1="20.0" x2="527.5" y2="41.2" stroke="#5a5a5a" stroke-width="3.4"/>
<line x1="568.1" y1="16.9" x2="568.1" y2="40.6" stroke="#5a5a5a" stroke-width="3.4"/>
<line x1="568.1" y1="16.9" x2="573.8" y2="12.7" stroke="#5a5a5a" stroke-width="2.7"/>
<line x1="573.8" y1="12.7" x2="577.5" y2="10.0" stroke="#b4b4b4" stroke-width="2.7"/>
<line x1="568.1" y1="40.6" x2="575.9" y2="48.1" stroke="#5a5a5a" stroke-width="2.7"/>
<line x1="575.9" y1="48.1" x2="581.9" y2="53.8" stroke="#b4b4b4" stroke-width="2.7"/>
<line x1="527.5" y1="41.2" x2="517.6" y2="49.7" stroke="#5a5a5a" stroke-width="2.7"/>
<line x1="517.6" y1="49.7" x2="510.6" y2="55.6" stroke="#b4b4b4" stroke-width="2.7"/>
<line x1="528.1" y1="20.0" x2="519.6" y2="15.6" stroke="#5a5a5a" stroke-width="2.7"/>
<line x1="519.6" y1="15.6" x2="512.5" y2="11.9" stroke="#b4b4b4" stroke-width="2.7"/>
<line x1="568.1" y1="40.6" x2="561.9" y2="43.6" stroke="#5a5a5a" stroke-width="2.7"/>
<line x1="561.9" y1="43.6" x2="559.0" y2="45.0" stroke="#b4b4b4" stroke-width="2.7"/>
<circle cx="515.6" cy="22.5" r="4.0" fill="url(#gH)"/>
<circle cx="559.0" cy="45.0" r="4.8" fill="url(#gH)"/>
<circle cx="528.1" cy="20.0" r="8.8" fill="url(#gC)"/>
<circle cx="545.6" cy="8.5" r="7.5" fill="url(#gO)"/>
<circle cx="568.1" cy="16.9" r="9.0" fill="url(#gC)"/>
<circle cx="577.5" cy="10.0" r="6.5" fill="url(#gH)"/>
<circle cx="568.1" cy="40.6" r="8.5" fill="url(#gC)"/>
<circle cx="581.9" cy="53.8" r="6.0" fill="url(#gH)"/>
<circle cx="527.5" cy="41.2" r="10.6" fill="url(#gC)"/>
<circle cx="543.1" cy="43.1" r="7.2" fill="url(#gH)"/>
<circle cx="510.6" cy="55.6" r="6.9" fill="url(#gH)"/>
<circle cx="512.5" cy="11.9" r="7.2" fill="url(#gH)"/>
<circle cx="511.0" cy="12.2" r="11.2" fill="none" stroke="#00aeef" stroke-width="2.7" stroke-dasharray="2.7 2.3"/>
</g>
<g>
<line x1="615.6" y1="271.1" x2="625.7" y2="265.7" stroke="#5a5a5a" stroke-width="3.4"/>
<line x1="625.7" y1="265.7" x2="634.4" y2="261.1" stroke="#e01010" stroke-width="3.4"/>
<line x1="634.4" y1="261.1" x2="647.5" y2="264.3" stroke="#e01010" stroke-width="3.4"/>
<line x1="647.5" y1="264.3" x2="663.1" y2="268.0" stroke="#5a5a5a" stroke-width="3.4"/>
<line x1="615.6" y1="271.1" x2="606.4" y2="266.8" stroke="#5a5a5a" stroke-width="2.7"/>
<line x1="606.4" y1="266.8" x2="600.6" y2="264.0" stroke="#b4b4b4" stroke-width="2.7"/>
<line x1="617.3" y1="271.4" x2="613.6" y2="293.9" stroke="#5a5a5a" stroke-width="1.7"/>
<line x1="613.9" y1="270.8" x2="610.2" y2="293.3" stroke="#5a5a5a" stroke-width="1.7"/>
<line x1="611.9" y1="293.6" x2="623.2" y2="299.5" stroke="#5a5a5a" stroke-width="2.7"/>
<line x1="623.2" y1="299.5" x2="631.2" y2="303.6" stroke="#b4b4b4" stroke-width="2.7"/>
<line x1="611.9" y1="293.6" x2="606.3" y2="302.8" stroke="#5a5a5a" stroke-width="2.7"/>
<line x1="606.3" y1="302.8" x2="603.1" y2="308.0" stroke="#b4b4b4" stroke-width="2.7"/>
<line x1="663.1" y1="268.0" x2="667.7" y2="256.7" stroke="#5a5a5a" stroke-width="2.7"/>
<line x1="667.7" y1="256.7" x2="670.6" y2="249.2" stroke="#b4b4b4" stroke-width="2.7"/>
<line x1="663.1" y1="268.0" x2="667.5" y2="285.5" stroke="#5a5a5a" stroke-width="3.4"/>
<line x1="667.5" y1="285.5" x2="668.2" y2="295.7" stroke="#5a5a5a" stroke-width="2.7"/>
<line x1="668.2" y1="295.7" x2="668.8" y2="303.0" stroke="#b4b4b4" stroke-width="2.7"/>
<circle cx="603.1" cy="308.0" r="6.2" fill="url(#gH)"/>
<circle cx="615.6" cy="271.1" r="9.4" fill="url(#gC)"/>
<circle cx="634.4" cy="261.1" r="7.8" fill="url(#gO)"/>
<circle cx="600.6" cy="264.0" r="5.6" fill="url(#gH)"/>
<circle cx="611.9" cy="293.6" r="11.0" fill="url(#gC)"/>
<circle cx="592.5" cy="289.9" r="7.8" fill="url(#gH)"/>
<circle cx="631.2" cy="303.6" r="7.2" fill="url(#gH)"/>
<circle cx="670.6" cy="249.2" r="6.0" fill="url(#gH)"/>
<circle cx="663.1" cy="268.0" r="10.2" fill="url(#gC)"/>
<circle cx="667.5" cy="285.5" r="8.5" fill="url(#gC)"/>
<circle cx="667.5" cy="269.9" r="6.5" fill="url(#gH)"/>
<circle cx="668.8" cy="303.0" r="5.6" fill="url(#gH)"/>
<circle cx="591.5" cy="289.5" r="11.5" fill="none" stroke="#00aeef" stroke-width="2.7" stroke-dasharray="2.7 2.3"/><path d="M613.8 266.5 Q596.9 271.8 593.9 283.6" fill="none" stroke="#00aeef" stroke-width="2.9" stroke-linecap="butt"/><polygon points="592.8,288.2 590.2,277.8 594.6,280.9 599.9,280.2" fill="#00aeef"/>
</g>
<g>
<line x1="725.0" y1="33.3" x2="734.7" y2="31.0" stroke="#5a5a5a" stroke-width="1.7"/>
<line x1="734.7" y1="31.0" x2="742.8" y2="29.0" stroke="#e01010" stroke-width="1.7"/>
<line x1="725.8" y1="36.7" x2="735.5" y2="34.3" stroke="#5a5a5a" stroke-width="1.7"/>
<line x1="735.5" y1="34.3" x2="743.7" y2="32.3" stroke="#e01010" stroke-width="1.7"/>
<line x1="725.4" y1="35.0" x2="718.8" y2="27.9" stroke="#5a5a5a" stroke-width="2.7"/>
<line x1="718.8" y1="27.9" x2="714.5" y2="23.1" stroke="#b4b4b4" stroke-width="2.7"/>
<line x1="725.4" y1="35.0" x2="714.5" y2="53.1" stroke="#5a5a5a" stroke-width="3.4"/>
<line x1="714.5" y1="53.1" x2="706.8" y2="50.0" stroke="#5a5a5a" stroke-width="2.7"/>
<line x1="706.8" y1="50.0" x2="702.0" y2="48.1" stroke="#b4b4b4" stroke-width="2.7"/>
<line x1="714.5" y1="53.1" x2="709.5" y2="58.8" stroke="#5a5a5a" stroke-width="2.7"/>
<line x1="709.5" y1="58.8" x2="706.2" y2="62.5" stroke="#b4b4b4" stroke-width="2.7"/>
<line x1="714.5" y1="53.1" x2="721.0" y2="58.5" stroke="#5a5a5a" stroke-width="2.7"/>
<line x1="721.0" y1="58.5" x2="725.0" y2="61.9" stroke="#b4b4b4" stroke-width="2.7"/>
<circle cx="714.5" cy="23.1" r="5.2" fill="url(#gH)"/>
<circle cx="725.4" cy="35.0" r="8.5" fill="url(#gC)"/>
<circle cx="743.2" cy="30.6" r="6.9" fill="url(#gO)"/>
<circle cx="702.0" cy="48.1" r="5.0" fill="url(#gH)"/>
<circle cx="706.2" cy="62.5" r="5.6" fill="url(#gH)"/>
<circle cx="714.5" cy="53.1" r="8.1" fill="url(#gC)"/>
<circle cx="725.0" cy="61.9" r="5.0" fill="url(#gH)"/>
</g>
<g>
<line x1="797.2" y1="28.1" x2="806.0" y2="36.9" stroke="#5a5a5a" stroke-width="3.4"/>
<line x1="797.2" y1="28.1" x2="795.4" y2="19.7" stroke="#5a5a5a" stroke-width="2.7"/>
<line x1="795.4" y1="19.7" x2="794.1" y2="13.8" stroke="#b4b4b4" stroke-width="2.7"/>
<line x1="806.0" y1="36.9" x2="807.9" y2="45.9" stroke="#5a5a5a" stroke-width="2.7"/>
<line x1="807.9" y1="45.9" x2="809.1" y2="51.9" stroke="#b4b4b4" stroke-width="2.7"/>
<line x1="797.2" y1="28.1" x2="794.2" y2="33.4" stroke="#5a5a5a" stroke-width="2.7"/>
<line x1="794.2" y1="33.4" x2="792.9" y2="35.6" stroke="#b4b4b4" stroke-width="2.7"/>
<circle cx="792.9" cy="35.6" r="3.8" fill="url(#gH)"/>
<circle cx="794.1" cy="13.8" r="4.8" fill="url(#gH)"/>
<circle cx="797.2" cy="28.1" r="7.2" fill="url(#gC)"/>
<circle cx="806.0" cy="36.9" r="8.1" fill="url(#gC)"/>
<circle cx="811.0" cy="30.6" r="4.8" fill="url(#gH)"/>
<circle cx="809.1" cy="51.9" r="5.0" fill="url(#gH)"/>
</g>
<g>
<line x1="892.8" y1="130.9" x2="899.6" y2="126.5" stroke="#5a5a5a" stroke-width="1.7"/>
<line x1="899.6" y1="126.5" x2="905.3" y2="122.8" stroke="#e01010" stroke-width="1.7"/>
<line x1="894.7" y1="133.8" x2="901.5" y2="129.4" stroke="#5a5a5a" stroke-width="1.7"/>
<line x1="901.5" y1="129.4" x2="907.2" y2="125.7" stroke="#e01010" stroke-width="1.7"/>
<line x1="893.8" y1="132.4" x2="886.5" y2="127.6" stroke="#5a5a5a" stroke-width="2.7"/>
<line x1="886.5" y1="127.6" x2="881.2" y2="124.2" stroke="#b4b4b4" stroke-width="2.7"/>
<line x1="893.8" y1="132.4" x2="893.5" y2="151.1" stroke="#5a5a5a" stroke-width="3.4"/>
<line x1="893.5" y1="151.1" x2="900.9" y2="153.8" stroke="#5a5a5a" stroke-width="2.7"/>
<line x1="900.9" y1="153.8" x2="905.6" y2="155.5" stroke="#b4b4b4" stroke-width="2.7"/>
<circle cx="884.0" cy="153.0" r="3.1" fill="url(#gH)"/>
<circle cx="881.2" cy="124.2" r="4.4" fill="url(#gH)"/>
<circle cx="893.8" cy="132.4" r="6.9" fill="url(#gC)"/>
<circle cx="906.2" cy="124.2" r="5.6" fill="url(#gO)"/>
<circle cx="893.5" cy="151.1" r="6.5" fill="url(#gC)"/>
<circle cx="888.5" cy="158.0" r="4.8" fill="url(#gH)"/>
<circle cx="905.6" cy="155.5" r="3.8" fill="url(#gH)"/>
</g>
<g>
<line x1="898.2" y1="200.5" x2="898.6" y2="214.0" stroke="#5a5a5a" stroke-width="1.7"/>
<line x1="894.8" y1="200.5" x2="895.2" y2="214.0" stroke="#5a5a5a" stroke-width="1.7"/>
<line x1="896.5" y1="200.5" x2="890.7" y2="196.9" stroke="#5a5a5a" stroke-width="2.7"/>
<line x1="890.7" y1="196.9" x2="886.5" y2="194.2" stroke="#b4b4b4" stroke-width="2.7"/>
<line x1="896.5" y1="200.5" x2="902.3" y2="196.7" stroke="#5a5a5a" stroke-width="2.7"/>
<line x1="902.3" y1="196.7" x2="906.2" y2="194.0" stroke="#b4b4b4" stroke-width="2.7"/>
<line x1="896.9" y1="214.0" x2="891.4" y2="217.4" stroke="#5a5a5a" stroke-width="2.7"/>
<line x1="891.4" y1="217.4" x2="887.5" y2="219.9" stroke="#b4b4b4" stroke-width="2.7"/>
<line x1="896.9" y1="214.0" x2="902.6" y2="217.1" stroke="#5a5a5a" stroke-width="2.7"/>
<line x1="902.6" y1="217.1" x2="906.5" y2="219.2" stroke="#b4b4b4" stroke-width="2.7"/>
<circle cx="896.5" cy="200.5" r="5.6" fill="url(#gC)"/>
<circle cx="896.9" cy="214.0" r="5.6" fill="url(#gC)"/>
<circle cx="886.5" cy="194.2" r="3.8" fill="url(#gH)"/>
<circle cx="906.2" cy="194.0" r="3.5" fill="url(#gH)"/>
<circle cx="887.5" cy="219.9" r="3.8" fill="url(#gH)"/>
<circle cx="906.5" cy="219.2" r="3.5" fill="url(#gH)"/>
</g>
<g>
<line x1="306.5" y1="433.0" x2="305.9" y2="423.0" stroke="#e01010" stroke-width="2.7"/>
<line x1="305.9" y1="423.0" x2="305.5" y2="416.1" stroke="#b4b4b4" stroke-width="2.7"/>
<line x1="306.5" y1="433.0" x2="306.9" y2="441.4" stroke="#e01010" stroke-width="2.7"/>
<line x1="306.9" y1="441.4" x2="307.1" y2="446.8" stroke="#b4b4b4" stroke-width="2.7"/>
<circle cx="307.1" cy="446.8" r="6.2" fill="url(#gH)"/>
<circle cx="305.5" cy="416.1" r="6.2" fill="url(#gH)"/>
<circle cx="306.5" cy="433.0" r="9.4" fill="url(#gO)"/>
</g>
<g>
<line x1="287.5" y1="489.2" x2="298.1" y2="481.8" stroke="#5a5a5a" stroke-width="3.4"/>
<line x1="298.1" y1="481.8" x2="308.0" y2="474.9" stroke="#e01010" stroke-width="3.4"/>
<line x1="331.5" y1="486.8" x2="319.2" y2="480.5" stroke="#5a5a5a" stroke-width="3.4"/>
<line x1="319.2" y1="480.5" x2="308.0" y2="474.9" stroke="#e01010" stroke-width="3.4"/>
<line x1="287.5" y1="489.2" x2="297.5" y2="506.8" stroke="#5a5a5a" stroke-width="3.4"/>
<line x1="331.5" y1="486.8" x2="324.6" y2="511.8" stroke="#5a5a5a" stroke-width="3.4"/>
<line x1="324.6" y1="511.8" x2="297.5" y2="506.8" stroke="#5a5a5a" stroke-width="3.4"/>
<line x1="287.5" y1="489.2" x2="279.0" y2="481.8" stroke="#5a5a5a" stroke-width="2.7"/>
<line x1="279.0" y1="481.8" x2="272.5" y2="476.1" stroke="#b4b4b4" stroke-width="2.7"/>
<line x1="331.5" y1="486.8" x2="338.5" y2="479.2" stroke="#5a5a5a" stroke-width="2.7"/>
<line x1="338.5" y1="479.2" x2="343.4" y2="474.0" stroke="#b4b4b4" stroke-width="2.7"/>
<line x1="297.5" y1="506.8" x2="290.3" y2="517.2" stroke="#5a5a5a" stroke-width="2.7"/>
<line x1="290.3" y1="517.2" x2="285.0" y2="524.9" stroke="#b4b4b4" stroke-width="2.7"/>
<line x1="324.6" y1="511.8" x2="334.0" y2="516.5" stroke="#5a5a5a" stroke-width="2.7"/>
<line x1="334.0" y1="516.5" x2="340.9" y2="519.9" stroke="#b4b4b4" stroke-width="2.7"/>
<line x1="324.6" y1="511.8" x2="323.8" y2="521.1" stroke="#5a5a5a" stroke-width="2.7"/>
<line x1="323.8" y1="521.1" x2="323.4" y2="526.8" stroke="#b4b4b4" stroke-width="2.7"/>
<line x1="287.5" y1="489.2" x2="283.6" y2="496.5" stroke="#5a5a5a" stroke-width="2.7"/>
<line x1="283.6" y1="496.5" x2="281.5" y2="500.5" stroke="#b4b4b4" stroke-width="2.7"/>
<circle cx="341.5" cy="489.9" r="4.4" fill="url(#gH)"/>
<circle cx="281.5" cy="500.5" r="5.2" fill="url(#gH)"/>
<circle cx="323.4" cy="526.8" r="5.6" fill="url(#gH)"/>
<circle cx="287.5" cy="489.2" r="9.0" fill="url(#gC)"/>
<circle cx="331.5" cy="486.8" r="9.4" fill="url(#gC)"/>
<circle cx="308.0" cy="474.9" r="8.1" fill="url(#gO)"/>
<circle cx="324.6" cy="511.8" r="9.4" fill="url(#gC)"/>
<circle cx="297.5" cy="506.8" r="10.2" fill="url(#gC)"/>
<circle cx="272.5" cy="476.1" r="6.2" fill="url(#gH)"/>
<circle cx="343.4" cy="474.0" r="6.2" fill="url(#gH)"/>
<circle cx="299.2" cy="494.2" r="6.9" fill="url(#gH)"/>
<circle cx="285.0" cy="524.9" r="6.9" fill="url(#gH)"/>
<circle cx="340.9" cy="519.9" r="6.5" fill="url(#gH)"/>
</g>
<g>
<line x1="344.8" y1="709.0" x2="354.9" y2="702.7" stroke="#5a5a5a" stroke-width="3.4"/>
<line x1="354.9" y1="702.7" x2="364.2" y2="696.9" stroke="#e01010" stroke-width="3.4"/>
<line x1="382.0" y1="707.5" x2="372.6" y2="701.9" stroke="#5a5a5a" stroke-width="3.4"/>
<line x1="372.6" y1="701.9" x2="364.2" y2="696.9" stroke="#e01010" stroke-width="3.4"/>
<line x1="344.8" y1="709.0" x2="350.1" y2="728.5" stroke="#5a5a5a" stroke-width="3.4"/>
<line x1="382.0" y1="707.5" x2="375.8" y2="732.5" stroke="#5a5a5a" stroke-width="3.4"/>
<line x1="375.8" y1="732.5" x2="350.1" y2="728.5" stroke="#5a5a5a" stroke-width="3.4"/>
<line x1="344.8" y1="709.0" x2="336.8" y2="702.2" stroke="#5a5a5a" stroke-width="2.7"/>
<line x1="336.8" y1="702.2" x2="331.0" y2="697.2" stroke="#b4b4b4" stroke-width="2.7"/>
<line x1="382.0" y1="707.5" x2="390.9" y2="705.2" stroke="#5a5a5a" stroke-width="2.7"/>
<line x1="390.9" y1="705.2" x2="395.8" y2="704.0" stroke="#b4b4b4" stroke-width="2.7"/>
<line x1="350.1" y1="728.5" x2="344.1" y2="737.0" stroke="#5a5a5a" stroke-width="2.7"/>
<line x1="344.1" y1="737.0" x2="339.8" y2="743.1" stroke="#b4b4b4" stroke-width="2.7"/>
<line x1="375.8" y1="732.5" x2="382.5" y2="737.4" stroke="#5a5a5a" stroke-width="2.7"/>
<line x1="382.5" y1="737.4" x2="387.0" y2="740.6" stroke="#b4b4b4" stroke-width="2.7"/>
<line x1="394.8" y1="685.0" x2="393.8" y2="674.3" stroke="#e01010" stroke-width="2.7"/>
<line x1="393.8" y1="674.3" x2="393.0" y2="666.0" stroke="#b4b4b4" stroke-width="2.7"/>
<line x1="394.8" y1="685.0" x2="405.5" y2="687.1" stroke="#e01010" stroke-width="2.7"/>
<line x1="405.5" y1="687.1" x2="413.9" y2="688.8" stroke="#b4b4b4" stroke-width="2.7"/>
<circle cx="341.0" cy="715.0" r="3.8" fill="url(#gH)"/>
<circle cx="375.8" cy="741.0" r="3.5" fill="url(#gH)"/>
<circle cx="344.8" cy="709.0" r="8.1" fill="url(#gC)"/>
<circle cx="382.0" cy="707.5" r="8.5" fill="url(#gC)"/>
<circle cx="364.2" cy="696.9" r="7.2" fill="url(#gO)"/>
<circle cx="331.0" cy="697.2" r="5.2" fill="url(#gH)"/>
<circle cx="388.2" cy="697.5" r="5.2" fill="url(#gH)"/>
<circle cx="395.8" cy="704.0" r="4.4" fill="url(#gH)"/>
<circle cx="375.8" cy="732.5" r="8.5" fill="url(#gC)"/>
<circle cx="350.1" cy="728.5" r="9.0" fill="url(#gC)"/>
<circle cx="348.2" cy="724.0" r="5.6" fill="url(#gH)"/>
<circle cx="339.8" cy="743.1" r="6.0" fill="url(#gH)"/>
<circle cx="387.0" cy="740.6" r="5.6" fill="url(#gH)"/>
<circle cx="393.0" cy="666.0" r="6.9" fill="url(#gH)"/>
<circle cx="394.8" cy="685.0" r="9.4" fill="url(#gO)"/>
<circle cx="413.9" cy="688.8" r="6.9" fill="url(#gH)"/>
</g>
<g>
<line x1="540.0" y1="436.2" x2="550.2" y2="428.6" stroke="#5a5a5a" stroke-width="3.4"/>
<line x1="550.2" y1="428.6" x2="560.0" y2="421.2" stroke="#e01010" stroke-width="3.4"/>
<line x1="560.0" y1="421.2" x2="572.2" y2="426.7" stroke="#e01010" stroke-width="3.4"/>
<line x1="572.2" y1="426.7" x2="586.2" y2="433.0" stroke="#5a5a5a" stroke-width="3.4"/>
<line x1="586.2" y1="433.0" x2="593.9" y2="424.6" stroke="#5a5a5a" stroke-width="2.7"/>
<line x1="593.9" y1="424.6" x2="598.5" y2="419.6" stroke="#b4b4b4" stroke-width="2.7"/>
<line x1="586.2" y1="433.0" x2="585.2" y2="457.8" stroke="#5a5a5a" stroke-width="3.4"/>
<line x1="585.2" y1="457.8" x2="592.0" y2="466.5" stroke="#5a5a5a" stroke-width="2.7"/>
<line x1="592.0" y1="466.5" x2="596.9" y2="472.8" stroke="#b4b4b4" stroke-width="2.7"/>
<line x1="541.7" y1="436.3" x2="541.1" y2="462.8" stroke="#5a5a5a" stroke-width="1.7"/>
<line x1="538.3" y1="436.2" x2="537.7" y2="462.7" stroke="#5a5a5a" stroke-width="1.7"/>
<line x1="539.4" y1="462.8" x2="530.8" y2="469.7" stroke="#5a5a5a" stroke-width="2.7"/>
<line x1="530.8" y1="469.7" x2="524.8" y2="474.6" stroke="#b4b4b4" stroke-width="2.7"/>
<line x1="539.4" y1="462.8" x2="547.2" y2="466.9" stroke="#5a5a5a" stroke-width="2.7"/>
<line x1="547.2" y1="466.9" x2="552.5" y2="469.6" stroke="#b4b4b4" stroke-width="2.7"/>
<line x1="580.0" y1="486.5" x2="585.6" y2="499.4" stroke="#e01010" stroke-width="2.7"/>
<line x1="585.6" y1="499.4" x2="590.0" y2="509.6" stroke="#b4b4b4" stroke-width="2.7"/>
<circle cx="576.2" cy="458.4" r="3.8" fill="url(#gH)"/>
<circle cx="540.0" cy="436.2" r="9.0" fill="url(#gC)"/>
<circle cx="560.0" cy="421.2" r="8.5" fill="url(#gO)"/>
<circle cx="598.5" cy="419.6" r="6.0" fill="url(#gH)"/>
<circle cx="586.2" cy="433.0" r="10.6" fill="url(#gC)"/>
<circle cx="590.6" cy="433.4" r="6.5" fill="url(#gH)"/>
<circle cx="585.2" cy="457.8" r="8.8" fill="url(#gC)"/>
<circle cx="596.9" cy="472.8" r="5.6" fill="url(#gH)"/>
<circle cx="539.4" cy="462.8" r="9.8" fill="url(#gC)"/>
<circle cx="552.5" cy="469.6" r="6.9" fill="url(#gH)"/>
<circle cx="524.8" cy="474.6" r="6.5" fill="url(#gH)"/>
<circle cx="523.5" cy="434.6" r="7.2" fill="url(#gH)"/>
<circle cx="590.0" cy="509.6" r="8.5" fill="url(#gH)"/>
<circle cx="580.0" cy="486.5" r="11.5" fill="url(#gO)"/>
<circle cx="580.6" cy="478.4" r="9.0" fill="url(#gH)"/>
<circle cx="521.2" cy="434.6" r="11.2" fill="none" stroke="#00aeef" stroke-width="2.7" stroke-dasharray="2.7 2.3"/>
</g>
<g>
<line x1="623.1" y1="764.9" x2="633.5" y2="758.7" stroke="#5a5a5a" stroke-width="3.4"/>
<line x1="633.5" y1="758.7" x2="643.1" y2="753.0" stroke="#e01010" stroke-width="3.4"/>
<line x1="643.1" y1="753.0" x2="656.3" y2="757.8" stroke="#e01010" stroke-width="3.4"/>
<line x1="656.3" y1="757.8" x2="670.6" y2="763.0" stroke="#5a5a5a" stroke-width="3.4"/>
<line x1="623.1" y1="764.9" x2="614.2" y2="759.2" stroke="#5a5a5a" stroke-width="2.7"/>
<line x1="614.2" y1="759.2" x2="608.1" y2="755.2" stroke="#b4b4b4" stroke-width="2.7"/>
<line x1="624.8" y1="765.2" x2="619.8" y2="790.6" stroke="#5a5a5a" stroke-width="1.7"/>
<line x1="621.5" y1="764.5" x2="616.5" y2="789.9" stroke="#5a5a5a" stroke-width="1.7"/>
<line x1="618.1" y1="790.2" x2="627.2" y2="796.3" stroke="#5a5a5a" stroke-width="2.7"/>
<line x1="627.2" y1="796.3" x2="633.5" y2="800.5" stroke="#b4b4b4" stroke-width="2.7"/>
<line x1="670.6" y1="763.0" x2="675.7" y2="752.0" stroke="#5a5a5a" stroke-width="2.7"/>
<line x1="675.7" y1="752.0" x2="679.4" y2="744.0" stroke="#b4b4b4" stroke-width="2.7"/>
<line x1="670.6" y1="763.0" x2="681.9" y2="774.2" stroke="#5a5a5a" stroke-width="3.4"/>
<line x1="681.9" y1="774.2" x2="680.8" y2="784.4" stroke="#5a5a5a" stroke-width="2.7"/>
<line x1="680.8" y1="784.4" x2="680.0" y2="791.8" stroke="#b4b4b4" stroke-width="2.7"/>
<line x1="681.9" y1="774.2" x2="686.2" y2="767.0" stroke="#5a5a5a" stroke-width="2.7"/>
<line x1="686.2" y1="767.0" x2="688.8" y2="762.8" stroke="#b4b4b4" stroke-width="2.7"/>
<line x1="667.2" y1="816.1" x2="673.9" y2="825.9" stroke="#e01010" stroke-width="2.7"/>
<line x1="673.9" y1="825.9" x2="678.8" y2="833.0" stroke="#b4b4b4" stroke-width="2.7"/>
<circle cx="614.4" cy="799.9" r="6.2" fill="url(#gH)"/>
<circle cx="688.8" cy="762.8" r="5.0" fill="url(#gH)"/>
<circle cx="623.1" cy="764.9" r="9.4" fill="url(#gC)"/>
<circle cx="643.1" cy="753.0" r="8.5" fill="url(#gO)"/>
<circle cx="608.1" cy="755.2" r="6.0" fill="url(#gH)"/>
<circle cx="618.1" cy="790.2" r="9.8" fill="url(#gC)"/>
<circle cx="598.5" cy="790.2" r="6.5" fill="url(#gH)"/>
<circle cx="633.5" cy="800.5" r="6.5" fill="url(#gH)"/>
<circle cx="679.4" cy="744.0" r="6.5" fill="url(#gH)"/>
<circle cx="670.6" cy="763.0" r="9.8" fill="url(#gC)"/>
<circle cx="681.9" cy="774.2" r="8.5" fill="url(#gC)"/>
<circle cx="667.5" cy="776.1" r="6.2" fill="url(#gH)"/>
<circle cx="680.0" cy="791.8" r="5.6" fill="url(#gH)"/>
<circle cx="678.8" cy="833.0" r="6.9" fill="url(#gH)"/>
<circle cx="667.2" cy="816.1" r="10.0" fill="url(#gO)"/>
<circle cx="665.6" cy="816.8" r="8.1" fill="url(#gH)"/>
<circle cx="597.2" cy="789.9" r="11.5" fill="none" stroke="#00aeef" stroke-width="2.7" stroke-dasharray="2.7 2.3"/><path d="M623.8 757.8 Q603.1 766.8 598.7 783.4" fill="none" stroke="#00aeef" stroke-width="2.9" stroke-linecap="butt"/><polygon points="597.5,788.0 595.1,777.5 599.4,780.7 604.8,780.1" fill="#00aeef"/>
</g>
<g>
<line x1="725.4" y1="435.0" x2="734.6" y2="432.3" stroke="#5a5a5a" stroke-width="1.7"/>
<line x1="734.6" y1="432.3" x2="742.5" y2="430.0" stroke="#e01010" stroke-width="1.7"/>
<line x1="726.4" y1="438.3" x2="735.5" y2="435.6" stroke="#5a5a5a" stroke-width="1.7"/>
<line x1="735.5" y1="435.6" x2="743.5" y2="433.3" stroke="#e01010" stroke-width="1.7"/>
<line x1="725.9" y1="436.6" x2="720.9" y2="431.3" stroke="#5a5a5a" stroke-width="2.7"/>
<line x1="720.9" y1="431.3" x2="718.0" y2="428.2" stroke="#b4b4b4" stroke-width="2.7"/>
<line x1="725.9" y1="436.6" x2="714.0" y2="454.1" stroke="#5a5a5a" stroke-width="3.4"/>
<line x1="714.0" y1="454.1" x2="704.9" y2="451.0" stroke="#5a5a5a" stroke-width="2.7"/>
<line x1="704.9" y1="451.0" x2="697.8" y2="448.5" stroke="#b4b4b4" stroke-width="2.7"/>
<line x1="714.0" y1="454.1" x2="719.9" y2="459.7" stroke="#5a5a5a" stroke-width="2.7"/>
<line x1="719.9" y1="459.7" x2="724.0" y2="463.5" stroke="#b4b4b4" stroke-width="2.7"/>
<circle cx="710.2" cy="464.1" r="4.8" fill="url(#gH)"/>
<circle cx="718.0" cy="428.2" r="4.8" fill="url(#gH)"/>
<circle cx="725.9" cy="436.6" r="7.8" fill="url(#gC)"/>
<circle cx="743.0" cy="431.6" r="6.5" fill="url(#gO)"/>
<circle cx="714.0" cy="454.1" r="7.8" fill="url(#gC)"/>
<circle cx="697.8" cy="448.5" r="5.6" fill="url(#gH)"/>
<circle cx="724.0" cy="463.5" r="5.2" fill="url(#gH)"/>
</g>
<g>
<line x1="743.0" y1="487.2" x2="745.5" y2="496.1" stroke="#e01010" stroke-width="2.7"/>
<line x1="745.5" y1="496.1" x2="747.5" y2="502.9" stroke="#b4b4b4" stroke-width="2.7"/>
<circle cx="747.5" cy="502.9" r="5.6" fill="url(#gH)"/>
<circle cx="743.0" cy="487.2" r="7.8" fill="url(#gO)"/>
<circle cx="737.8" cy="491.6" r="6.2" fill="url(#gH)"/>
</g>
<g>
<line x1="818.8" y1="422.5" x2="818.2" y2="414.3" stroke="#5a5a5a" stroke-width="2.7"/>
<line x1="818.2" y1="414.3" x2="817.8" y2="408.1" stroke="#b4b4b4" stroke-width="2.7"/>
<line x1="812.5" y1="426.2" x2="810.4" y2="417.4" stroke="#5a5a5a" stroke-width="2.7"/>
<line x1="810.4" y1="417.4" x2="809.0" y2="411.2" stroke="#b4b4b4" stroke-width="2.7"/>
<line x1="812.5" y1="426.2" x2="812.5" y2="436.4" stroke="#5a5a5a" stroke-width="2.7"/>
<line x1="812.5" y1="436.4" x2="812.5" y2="443.8" stroke="#b4b4b4" stroke-width="2.7"/>
<circle cx="817.8" cy="408.1" r="4.8" fill="url(#gH)"/>
<circle cx="818.8" cy="422.5" r="6.9" fill="url(#gC)"/>
<circle cx="812.5" cy="426.2" r="8.5" fill="url(#gC)"/>
<circle cx="809.0" cy="411.2" r="5.6" fill="url(#gH)"/>
<circle cx="820.6" cy="435.6" r="4.4" fill="url(#gH)"/>
<circle cx="812.5" cy="443.8" r="5.6" fill="url(#gH)"/>
</g>
<g>
<line x1="886.2" y1="584.7" x2="895.0" y2="577.8" stroke="#5a5a5a" stroke-width="1.7"/>
<line x1="895.0" y1="577.8" x2="903.1" y2="571.5" stroke="#e01010" stroke-width="1.7"/>
<line x1="888.3" y1="587.3" x2="897.1" y2="580.5" stroke="#5a5a5a" stroke-width="1.7"/>
<line x1="897.1" y1="580.5" x2="905.2" y2="574.2" stroke="#e01010" stroke-width="1.7"/>
<line x1="887.2" y1="586.0" x2="876.6" y2="580.3" stroke="#5a5a5a" stroke-width="2.7"/>
<line x1="876.6" y1="580.3" x2="868.5" y2="576.0" stroke="#b4b4b4" stroke-width="2.7"/>
<line x1="887.2" y1="586.0" x2="888.2" y2="612.2" stroke="#5a5a5a" stroke-width="3.4"/>
<line x1="888.2" y1="612.2" x2="898.2" y2="615.2" stroke="#5a5a5a" stroke-width="2.7"/>
<line x1="898.2" y1="615.2" x2="905.4" y2="617.2" stroke="#b4b4b4" stroke-width="2.7"/>
<circle cx="877.2" cy="613.5" r="4.0" fill="url(#gH)"/>
<circle cx="868.5" cy="576.0" r="6.0" fill="url(#gH)"/>
<circle cx="887.2" cy="586.0" r="9.0" fill="url(#gC)"/>
<circle cx="904.1" cy="572.9" r="8.1" fill="url(#gO)"/>
<circle cx="888.2" cy="612.2" r="8.5" fill="url(#gC)"/>
<circle cx="877.2" cy="622.9" r="6.5" fill="url(#gH)"/>
<circle cx="905.4" cy="617.2" r="5.6" fill="url(#gH)"/>
</g>
<g>
<line x1="937.0" y1="598.8" x2="945.7" y2="599.3" stroke="#e01010" stroke-width="2.7"/>
<line x1="945.7" y1="599.3" x2="952.9" y2="599.8" stroke="#b4b4b4" stroke-width="2.7"/>
<circle cx="937.0" cy="598.8" r="7.5" fill="url(#gO)"/>
<circle cx="952.9" cy="599.8" r="6.0" fill="url(#gH)"/>
</g>
<g>
<line x1="920.4" y1="670.6" x2="920.8" y2="691.8" stroke="#5a5a5a" stroke-width="1.7"/>
<line x1="917.1" y1="670.7" x2="917.4" y2="691.9" stroke="#5a5a5a" stroke-width="1.7"/>
<line x1="918.8" y1="670.6" x2="909.7" y2="665.5" stroke="#5a5a5a" stroke-width="2.7"/>
<line x1="909.7" y1="665.5" x2="903.2" y2="661.9" stroke="#b4b4b4" stroke-width="2.7"/>
<line x1="918.8" y1="670.6" x2="927.4" y2="665.1" stroke="#5a5a5a" stroke-width="2.7"/>
<line x1="927.4" y1="665.1" x2="933.5" y2="661.2" stroke="#b4b4b4" stroke-width="2.7"/>
<line x1="919.1" y1="691.9" x2="911.0" y2="696.9" stroke="#5a5a5a" stroke-width="2.7"/>
<line x1="911.0" y1="696.9" x2="905.0" y2="700.6" stroke="#b4b4b4" stroke-width="2.7"/>
<line x1="919.1" y1="691.9" x2="927.6" y2="696.5" stroke="#5a5a5a" stroke-width="2.7"/>
<line x1="927.6" y1="696.5" x2="933.8" y2="699.8" stroke="#b4b4b4" stroke-width="2.7"/>
<circle cx="918.8" cy="670.6" r="8.1" fill="url(#gC)"/>
<circle cx="919.1" cy="691.9" r="7.8" fill="url(#gC)"/>
<circle cx="903.2" cy="661.9" r="5.2" fill="url(#gH)"/>
<circle cx="933.5" cy="661.2" r="5.0" fill="url(#gH)"/>
<circle cx="905.0" cy="700.6" r="5.2" fill="url(#gH)"/>
<circle cx="933.8" cy="699.8" r="5.0" fill="url(#gH)"/>
</g>
<g>
<line x1="211.6" y1="916.9" x2="212.1" y2="906.3" stroke="#5a5a5a" stroke-width="2.7"/>
<line x1="212.1" y1="906.3" x2="212.5" y2="899.0" stroke="#b4b4b4" stroke-width="2.7"/>
<line x1="211.6" y1="916.9" x2="213.5" y2="928.1" stroke="#5a5a5a" stroke-width="3.4"/>
<line x1="211.6" y1="916.9" x2="231.2" y2="926.2" stroke="#5a5a5a" stroke-width="3.4"/>
<line x1="231.2" y1="926.2" x2="248.5" y2="928.1" stroke="#5a5a5a" stroke-width="3.4"/>
<line x1="248.5" y1="928.1" x2="253.2" y2="919.0" stroke="#5a5a5a" stroke-width="2.7"/>
<line x1="253.2" y1="919.0" x2="256.6" y2="912.5" stroke="#b4b4b4" stroke-width="2.7"/>
<line x1="248.5" y1="928.1" x2="255.8" y2="935.1" stroke="#5a5a5a" stroke-width="2.7"/>
<line x1="255.8" y1="935.1" x2="261.0" y2="940.0" stroke="#b4b4b4" stroke-width="2.7"/>
<line x1="213.5" y1="928.1" x2="203.3" y2="924.0" stroke="#5a5a5a" stroke-width="2.7"/>
<line x1="203.3" y1="924.0" x2="196.6" y2="921.2" stroke="#b4b4b4" stroke-width="2.7"/>
<line x1="213.5" y1="928.1" x2="206.8" y2="936.8" stroke="#5a5a5a" stroke-width="2.7"/>
<line x1="206.8" y1="936.8" x2="202.0" y2="943.1" stroke="#b4b4b4" stroke-width="2.7"/>
<line x1="213.5" y1="928.1" x2="226.6" y2="931.4" stroke="#5a5a5a" stroke-width="3.4"/>
<line x1="226.6" y1="931.4" x2="238.2" y2="934.4" stroke="#e01010" stroke-width="3.4"/>
<line x1="248.5" y1="928.1" x2="243.1" y2="931.4" stroke="#5a5a5a" stroke-width="3.4"/>
<line x1="243.1" y1="931.4" x2="238.2" y2="934.4" stroke="#e01010" stroke-width="3.4"/>
<circle cx="235.8" cy="918.1" r="4.4" fill="url(#gH)"/>
<circle cx="227.9" cy="942.2" r="4.8" fill="url(#gH)"/>
<circle cx="211.6" cy="916.9" r="8.5" fill="url(#gC)"/>
<circle cx="212.5" cy="899.0" r="5.2" fill="url(#gH)"/>
<circle cx="231.2" cy="926.2" r="6.9" fill="url(#gC)"/>
<circle cx="248.5" cy="928.1" r="8.1" fill="url(#gC)"/>
<circle cx="256.6" cy="912.5" r="5.2" fill="url(#gH)"/>
<circle cx="261.0" cy="940.0" r="5.2" fill="url(#gH)"/>
<circle cx="213.5" cy="928.1" r="9.0" fill="url(#gC)"/>
<circle cx="208.8" cy="914.4" r="6.2" fill="url(#gH)"/>
<circle cx="196.6" cy="921.2" r="5.2" fill="url(#gH)"/>
<circle cx="202.0" cy="943.1" r="6.0" fill="url(#gH)"/>
<circle cx="238.2" cy="934.4" r="7.5" fill="url(#gO)"/>
</g>
<g>
<line x1="206.6" y1="986.9" x2="216.0" y2="982.5" stroke="#5a5a5a" stroke-width="3.4"/>
<line x1="216.0" y1="982.5" x2="224.5" y2="978.5" stroke="#e01010" stroke-width="3.4"/>
<line x1="242.9" y1="986.9" x2="233.3" y2="982.5" stroke="#5a5a5a" stroke-width="3.4"/>
<line x1="233.3" y1="982.5" x2="224.5" y2="978.5" stroke="#e01010" stroke-width="3.4"/>
<line x1="206.6" y1="986.9" x2="215.8" y2="1001.9" stroke="#5a5a5a" stroke-width="3.4"/>
<line x1="215.8" y1="1001.9" x2="239.1" y2="993.1" stroke="#5a5a5a" stroke-width="3.4"/>
<line x1="206.6" y1="986.9" x2="201.1" y2="979.2" stroke="#5a5a5a" stroke-width="2.7"/>
<line x1="201.1" y1="979.2" x2="197.0" y2="973.5" stroke="#b4b4b4" stroke-width="2.7"/>
<line x1="242.9" y1="986.9" x2="249.6" y2="980.4" stroke="#5a5a5a" stroke-width="2.7"/>
<line x1="249.6" y1="980.4" x2="254.5" y2="975.6" stroke="#b4b4b4" stroke-width="2.7"/>
<line x1="215.8" y1="1001.9" x2="215.2" y2="1011.6" stroke="#5a5a5a" stroke-width="2.7"/>
<line x1="215.2" y1="1011.6" x2="214.8" y2="1018.5" stroke="#b4b4b4" stroke-width="2.7"/>
<line x1="239.1" y1="993.1" x2="246.1" y2="1000.1" stroke="#5a5a5a" stroke-width="2.7"/>
<line x1="246.1" y1="1000.1" x2="251.0" y2="1005.0" stroke="#b4b4b4" stroke-width="2.7"/>
<circle cx="196.6" cy="995.2" r="4.0" fill="url(#gH)"/>
<circle cx="247.5" cy="998.8" r="3.1" fill="url(#gH)"/>
<circle cx="206.6" cy="986.9" r="7.5" fill="url(#gC)"/>
<circle cx="197.0" cy="973.5" r="5.0" fill="url(#gH)"/>
<circle cx="242.9" cy="986.9" r="7.2" fill="url(#gC)"/>
<circle cx="224.5" cy="978.5" r="6.5" fill="url(#gO)"/>
<circle cx="254.5" cy="975.6" r="4.8" fill="url(#gH)"/>
<circle cx="240.0" cy="977.2" r="5.0" fill="url(#gH)"/>
<circle cx="239.1" cy="993.1" r="8.1" fill="url(#gC)"/>
<circle cx="215.8" cy="1001.9" r="8.1" fill="url(#gC)"/>
<circle cx="204.5" cy="1001.9" r="5.6" fill="url(#gH)"/>
<circle cx="214.8" cy="1018.5" r="5.2" fill="url(#gH)"/>
<circle cx="251.0" cy="1005.0" r="5.2" fill="url(#gH)"/>
</g>
<g>
<line x1="285.4" y1="1173.6" x2="300.0" y2="1176.1" stroke="#5a5a5a" stroke-width="3.4"/>
<line x1="300.0" y1="1176.1" x2="314.5" y2="1187.8" stroke="#5a5a5a" stroke-width="3.4"/>
<line x1="285.4" y1="1173.6" x2="284.1" y2="1192.8" stroke="#5a5a5a" stroke-width="3.4"/>
<line x1="284.1" y1="1192.8" x2="294.3" y2="1196.2" stroke="#5a5a5a" stroke-width="3.4"/>
<line x1="294.3" y1="1196.2" x2="304.1" y2="1199.5" stroke="#e01010" stroke-width="3.4"/>
<line x1="304.1" y1="1199.5" x2="304.8" y2="1207.9" stroke="#e01010" stroke-width="2.7"/>
<line x1="304.8" y1="1207.9" x2="305.4" y2="1214.2" stroke="#b4b4b4" stroke-width="2.7"/>
<line x1="285.4" y1="1173.6" x2="287.1" y2="1167.0" stroke="#5a5a5a" stroke-width="2.7"/>
<line x1="287.1" y1="1167.0" x2="288.2" y2="1162.8" stroke="#b4b4b4" stroke-width="2.7"/>
<line x1="285.4" y1="1173.6" x2="277.0" y2="1170.9" stroke="#5a5a5a" stroke-width="2.7"/>
<line x1="277.0" y1="1170.9" x2="271.0" y2="1169.0" stroke="#b4b4b4" stroke-width="2.7"/>
<line x1="300.0" y1="1176.1" x2="303.2" y2="1169.0" stroke="#5a5a5a" stroke-width="2.7"/>
<line x1="303.2" y1="1169.0" x2="305.4" y2="1164.2" stroke="#b4b4b4" stroke-width="2.7"/>
<line x1="314.5" y1="1187.8" x2="320.3" y2="1183.2" stroke="#5a5a5a" stroke-width="2.7"/>
<line x1="320.3" y1="1183.2" x2="324.1" y2="1180.2" stroke="#b4b4b4" stroke-width="2.7"/>
<line x1="314.5" y1="1187.8" x2="319.0" y2="1193.3" stroke="#5a5a5a" stroke-width="2.7"/>
<line x1="319.0" y1="1193.3" x2="321.6" y2="1196.5" stroke="#b4b4b4" stroke-width="2.7"/>
<line x1="284.1" y1="1192.8" x2="278.9" y2="1198.5" stroke="#5a5a5a" stroke-width="2.7"/>
<line x1="278.9" y1="1198.5" x2="275.4" y2="1202.4" stroke="#b4b4b4" stroke-width="2.7"/>
<circle cx="294.8" cy="1183.0" r="3.8" fill="url(#gH)"/>
<circle cx="288.2" cy="1162.8" r="4.8" fill="url(#gH)"/>
<circle cx="271.0" cy="1169.0" r="4.8" fill="url(#gH)"/>
<circle cx="285.4" cy="1173.6" r="7.2" fill="url(#gC)"/>
<circle cx="300.0" cy="1176.1" r="6.9" fill="url(#gC)"/>
<circle cx="305.4" cy="1164.2" r="4.4" fill="url(#gH)"/>
<circle cx="314.5" cy="1187.8" r="6.9" fill="url(#gC)"/>
<circle cx="324.1" cy="1180.2" r="4.4" fill="url(#gH)"/>
<circle cx="321.6" cy="1196.5" r="3.8" fill="url(#gH)"/>
<circle cx="284.1" cy="1192.8" r="6.9" fill="url(#gC)"/>
<circle cx="278.5" cy="1192.8" r="4.8" fill="url(#gH)"/>
<circle cx="275.4" cy="1202.4" r="4.4" fill="url(#gH)"/>
<circle cx="305.4" cy="1214.2" r="4.4" fill="url(#gH)"/>
<circle cx="304.1" cy="1199.5" r="6.5" fill="url(#gO)"/>
</g>
<g>
<line x1="308.5" y1="1233.0" x2="316.1" y2="1231.3" stroke="#5a5a5a" stroke-width="3.4"/>
<line x1="316.1" y1="1231.3" x2="322.9" y2="1229.9" stroke="#e01010" stroke-width="3.4"/>
<line x1="337.9" y1="1239.2" x2="330.0" y2="1234.3" stroke="#5a5a5a" stroke-width="3.4"/>
<line x1="330.0" y1="1234.3" x2="322.9" y2="1229.9" stroke="#e01010" stroke-width="3.4"/>
<line x1="308.5" y1="1233.0" x2="311.6" y2="1248.0" stroke="#5a5a5a" stroke-width="3.4"/>
<line x1="311.6" y1="1248.0" x2="332.2" y2="1246.8" stroke="#5a5a5a" stroke-width="3.4"/>
<line x1="308.5" y1="1233.0" x2="301.1" y2="1232.4" stroke="#5a5a5a" stroke-width="2.7"/>
<line x1="301.1" y1="1232.4" x2="296.2" y2="1232.0" stroke="#b4b4b4" stroke-width="2.7"/>
<line x1="337.9" y1="1239.2" x2="344.5" y2="1234.0" stroke="#5a5a5a" stroke-width="2.7"/>
<line x1="344.5" y1="1234.0" x2="349.1" y2="1230.2" stroke="#b4b4b4" stroke-width="2.7"/>
<line x1="311.6" y1="1248.0" x2="308.9" y2="1255.2" stroke="#5a5a5a" stroke-width="2.7"/>
<line x1="308.9" y1="1255.2" x2="307.0" y2="1260.5" stroke="#b4b4b4" stroke-width="2.7"/>
<line x1="332.2" y1="1246.8" x2="336.2" y2="1253.8" stroke="#5a5a5a" stroke-width="2.7"/>
<line x1="336.2" y1="1253.8" x2="339.1" y2="1259.0" stroke="#b4b4b4" stroke-width="2.7"/>
<circle cx="340.0" cy="1249.2" r="3.5" fill="url(#gH)"/>
<circle cx="308.5" cy="1233.0" r="6.5" fill="url(#gC)"/>
<circle cx="296.2" cy="1232.0" r="4.0" fill="url(#gH)"/>
<circle cx="337.9" cy="1239.2" r="6.5" fill="url(#gC)"/>
<circle cx="322.9" cy="1229.9" r="5.6" fill="url(#gO)"/>
<circle cx="349.1" cy="1230.2" r="4.0" fill="url(#gH)"/>
<circle cx="336.6" cy="1234.9" r="4.4" fill="url(#gH)"/>
<circle cx="332.2" cy="1246.8" r="6.9" fill="url(#gC)"/>
<circle cx="311.6" cy="1248.0" r="6.9" fill="url(#gC)"/>
<circle cx="302.0" cy="1246.1" r="4.8" fill="url(#gH)"/>
<circle cx="307.0" cy="1260.5" r="4.8" fill="url(#gH)"/>
<circle cx="339.1" cy="1259.0" r="4.8" fill="url(#gH)"/>
</g>
<g>
<line x1="449.4" y1="912.5" x2="463.1" y2="918.1" stroke="#5a5a5a" stroke-width="3.4"/>
<line x1="463.1" y1="918.1" x2="478.8" y2="936.9" stroke="#5a5a5a" stroke-width="3.4"/>
<line x1="449.4" y1="912.5" x2="445.6" y2="938.1" stroke="#5a5a5a" stroke-width="3.4"/>
<line x1="445.6" y1="938.1" x2="457.8" y2="944.9" stroke="#5a5a5a" stroke-width="3.4"/>
<line x1="457.8" y1="944.9" x2="468.1" y2="950.6" stroke="#e01010" stroke-width="3.4"/>
<line x1="468.1" y1="950.6" x2="466.2" y2="959.7" stroke="#e01010" stroke-width="2.7"/>
<line x1="466.2" y1="959.7" x2="464.8" y2="966.9" stroke="#b4b4b4" stroke-width="2.7"/>
<line x1="449.4" y1="912.5" x2="438.9" y2="906.3" stroke="#5a5a5a" stroke-width="2.7"/>
<line x1="438.9" y1="906.3" x2="431.2" y2="901.9" stroke="#b4b4b4" stroke-width="2.7"/>
<line x1="463.1" y1="918.1" x2="461.9" y2="908.6" stroke="#5a5a5a" stroke-width="2.7"/>
<line x1="461.9" y1="908.6" x2="461.0" y2="901.5" stroke="#b4b4b4" stroke-width="2.7"/>
<line x1="463.1" y1="918.1" x2="467.8" y2="909.4" stroke="#5a5a5a" stroke-width="2.7"/>
<line x1="467.8" y1="909.4" x2="471.0" y2="903.5" stroke="#b4b4b4" stroke-width="2.7"/>
<line x1="478.8" y1="936.9" x2="488.5" y2="934.1" stroke="#5a5a5a" stroke-width="2.7"/>
<line x1="488.5" y1="934.1" x2="495.2" y2="932.2" stroke="#b4b4b4" stroke-width="2.7"/>
<line x1="445.6" y1="938.1" x2="436.3" y2="942.8" stroke="#5a5a5a" stroke-width="2.7"/>
<line x1="436.3" y1="942.8" x2="430.0" y2="946.0" stroke="#b4b4b4" stroke-width="2.7"/>
<circle cx="451.2" cy="924.0" r="3.8" fill="url(#gH)"/>
<circle cx="481.9" cy="948.1" r="4.4" fill="url(#gH)"/>
<circle cx="431.2" cy="901.9" r="6.0" fill="url(#gH)"/>
<circle cx="461.0" cy="901.5" r="5.6" fill="url(#gH)"/>
<circle cx="471.0" cy="903.5" r="5.0" fill="url(#gH)"/>
<circle cx="449.4" cy="912.5" r="9.4" fill="url(#gC)"/>
<circle cx="463.1" cy="918.1" r="8.1" fill="url(#gC)"/>
<circle cx="478.8" cy="936.9" r="8.1" fill="url(#gC)"/>
<circle cx="495.2" cy="932.2" r="5.0" fill="url(#gH)"/>
<circle cx="445.6" cy="938.1" r="9.4" fill="url(#gC)"/>
<circle cx="445.2" cy="939.0" r="5.6" fill="url(#gH)"/>
<circle cx="430.0" cy="946.0" r="6.0" fill="url(#gH)"/>
<circle cx="468.1" cy="950.6" r="7.2" fill="url(#gO)"/>
<circle cx="464.8" cy="966.9" r="5.2" fill="url(#gH)"/>
<circle cx="464.6" cy="966.2" r="11.5" fill="none" stroke="#00aeef" stroke-width="2.7" stroke-dasharray="2.7 2.3"/>
</g>
<g>
<line x1="461.5" y1="990.0" x2="471.2" y2="987.7" stroke="#5a5a5a" stroke-width="3.4"/>
<line x1="471.2" y1="987.7" x2="479.8" y2="985.6" stroke="#e01010" stroke-width="3.4"/>
<line x1="479.8" y1="985.6" x2="488.1" y2="991.9" stroke="#e01010" stroke-width="3.4"/>
<line x1="488.1" y1="991.9" x2="498.1" y2="999.4" stroke="#5a5a5a" stroke-width="3.4"/>
<line x1="463.2" y1="990.1" x2="462.3" y2="1007.6" stroke="#5a5a5a" stroke-width="1.7"/>
<line x1="459.8" y1="989.9" x2="458.9" y2="1007.4" stroke="#5a5a5a" stroke-width="1.7"/>
<line x1="461.5" y1="990.0" x2="453.9" y2="983.8" stroke="#5a5a5a" stroke-width="2.7"/>
<line x1="453.9" y1="983.8" x2="448.5" y2="979.4" stroke="#b4b4b4" stroke-width="2.7"/>
<line x1="460.6" y1="1007.5" x2="451.6" y2="1008.6" stroke="#5a5a5a" stroke-width="2.7"/>
<line x1="451.6" y1="1008.6" x2="445.0" y2="1009.4" stroke="#b4b4b4" stroke-width="2.7"/>
<line x1="460.6" y1="1007.5" x2="465.6" y2="1015.7" stroke="#5a5a5a" stroke-width="2.7"/>
<line x1="465.6" y1="1015.7" x2="469.0" y2="1021.5" stroke="#b4b4b4" stroke-width="2.7"/>
<line x1="498.1" y1="999.4" x2="501.8" y2="1009.0" stroke="#5a5a5a" stroke-width="2.7"/>
<line x1="501.8" y1="1009.0" x2="504.4" y2="1015.6" stroke="#b4b4b4" stroke-width="2.7"/>
<line x1="498.1" y1="999.4" x2="506.1" y2="992.0" stroke="#5a5a5a" stroke-width="2.7"/>
<line x1="506.1" y1="992.0" x2="511.0" y2="987.5" stroke="#b4b4b4" stroke-width="2.7"/>
<circle cx="496.9" cy="1011.2" r="3.8" fill="url(#gH)"/>
<circle cx="448.5" cy="979.4" r="5.0" fill="url(#gH)"/>
<circle cx="461.5" cy="990.0" r="7.8" fill="url(#gC)"/>
<circle cx="479.8" cy="985.6" r="6.5" fill="url(#gO)"/>
<circle cx="498.1" cy="999.4" r="8.5" fill="url(#gC)"/>
<circle cx="500.0" cy="986.9" r="5.2" fill="url(#gH)"/>
<circle cx="511.0" cy="987.5" r="4.4" fill="url(#gH)"/>
<circle cx="460.6" cy="1007.5" r="8.1" fill="url(#gC)"/>
<circle cx="445.0" cy="1009.4" r="5.6" fill="url(#gH)"/>
<circle cx="469.0" cy="1021.5" r="5.2" fill="url(#gH)"/>
<circle cx="504.4" cy="1015.6" r="5.2" fill="url(#gH)"/>
</g>
<g>
<line x1="483.8" y1="1170.4" x2="501.0" y2="1167.2" stroke="#5a5a5a" stroke-width="3.4"/>
<line x1="501.0" y1="1167.2" x2="523.8" y2="1179.8" stroke="#5a5a5a" stroke-width="3.4"/>
<line x1="483.8" y1="1170.4" x2="488.1" y2="1197.9" stroke="#5a5a5a" stroke-width="3.4"/>
<line x1="488.1" y1="1197.9" x2="502.8" y2="1199.2" stroke="#5a5a5a" stroke-width="3.4"/>
<line x1="502.8" y1="1199.2" x2="516.2" y2="1200.4" stroke="#e01010" stroke-width="3.4"/>
<line x1="516.2" y1="1200.4" x2="518.5" y2="1210.2" stroke="#e01010" stroke-width="2.7"/>
<line x1="518.5" y1="1210.2" x2="520.2" y2="1217.9" stroke="#b4b4b4" stroke-width="2.7"/>
<line x1="483.8" y1="1170.4" x2="472.4" y2="1168.9" stroke="#5a5a5a" stroke-width="2.7"/>
<line x1="472.4" y1="1168.9" x2="464.0" y2="1167.9" stroke="#b4b4b4" stroke-width="2.7"/>
<line x1="501.0" y1="1167.2" x2="502.7" y2="1156.5" stroke="#5a5a5a" stroke-width="2.7"/>
<line x1="502.7" y1="1156.5" x2="504.0" y2="1148.5" stroke="#b4b4b4" stroke-width="2.7"/>
<line x1="523.8" y1="1179.8" x2="531.7" y2="1173.1" stroke="#5a5a5a" stroke-width="2.7"/>
<line x1="531.7" y1="1173.1" x2="537.2" y2="1168.5" stroke="#b4b4b4" stroke-width="2.7"/>
<line x1="483.8" y1="1170.4" x2="486.0" y2="1162.1" stroke="#5a5a5a" stroke-width="2.7"/>
<line x1="486.0" y1="1162.1" x2="487.5" y2="1156.6" stroke="#b4b4b4" stroke-width="2.7"/>
<circle cx="493.8" cy="1176.0" r="4.4" fill="url(#gH)"/>
<circle cx="504.0" cy="1148.5" r="5.6" fill="url(#gH)"/>
<circle cx="487.5" cy="1156.6" r="6.0" fill="url(#gH)"/>
<circle cx="464.0" cy="1167.9" r="6.0" fill="url(#gH)"/>
<circle cx="483.8" cy="1170.4" r="9.0" fill="url(#gC)"/>
<circle cx="501.0" cy="1167.2" r="8.5" fill="url(#gC)"/>
<circle cx="523.8" cy="1179.8" r="8.8" fill="url(#gC)"/>
<circle cx="537.2" cy="1168.5" r="5.6" fill="url(#gH)"/>
<circle cx="533.1" cy="1187.2" r="4.8" fill="url(#gH)"/>
<circle cx="488.1" cy="1197.9" r="9.0" fill="url(#gC)"/>
<circle cx="486.2" cy="1202.9" r="6.0" fill="url(#gH)"/>
<circle cx="478.8" cy="1210.8" r="5.6" fill="url(#gH)"/>
<circle cx="516.2" cy="1200.4" r="7.8" fill="url(#gO)"/>
<circle cx="520.2" cy="1217.9" r="5.6" fill="url(#gH)"/>
<circle cx="520.0" cy="1216.0" r="11.9" fill="none" stroke="#00aeef" stroke-width="2.7" stroke-dasharray="2.7 2.3"/>
</g>
<g>
<line x1="538.1" y1="1237.5" x2="549.6" y2="1237.2" stroke="#5a5a5a" stroke-width="3.4"/>
<line x1="549.6" y1="1237.2" x2="559.8" y2="1236.9" stroke="#e01010" stroke-width="3.4"/>
<line x1="559.8" y1="1236.9" x2="566.9" y2="1240.8" stroke="#e01010" stroke-width="3.4"/>
<line x1="566.9" y1="1240.8" x2="575.6" y2="1245.6" stroke="#5a5a5a" stroke-width="3.4"/>
<line x1="538.1" y1="1237.5" x2="524.0" y2="1244.0" stroke="#5a5a5a" stroke-width="3.4"/>
<line x1="524.0" y1="1244.0" x2="513.5" y2="1245.9" stroke="#5a5a5a" stroke-width="2.7"/>
<line x1="513.5" y1="1245.9" x2="506.0" y2="1247.2" stroke="#b4b4b4" stroke-width="2.7"/>
<line x1="580.0" y1="1227.5" x2="581.8" y2="1216.6" stroke="#5a5a5a" stroke-width="2.7"/>
<line x1="581.8" y1="1216.6" x2="583.1" y2="1209.0" stroke="#b4b4b4" stroke-width="2.7"/>
<line x1="580.0" y1="1227.5" x2="575.6" y2="1245.6" stroke="#5a5a5a" stroke-width="3.4"/>
<line x1="575.6" y1="1245.6" x2="585.6" y2="1247.2" stroke="#5a5a5a" stroke-width="2.7"/>
<line x1="585.6" y1="1247.2" x2="591.9" y2="1248.1" stroke="#b4b4b4" stroke-width="2.7"/>
<line x1="575.6" y1="1245.6" x2="572.4" y2="1256.0" stroke="#5a5a5a" stroke-width="2.7"/>
<line x1="572.4" y1="1256.0" x2="570.0" y2="1263.5" stroke="#b4b4b4" stroke-width="2.7"/>
<circle cx="529.8" cy="1231.9" r="4.0" fill="url(#gH)"/>
<circle cx="538.1" cy="1237.5" r="8.5" fill="url(#gC)"/>
<circle cx="524.0" cy="1244.0" r="8.8" fill="url(#gC)"/>
<circle cx="506.0" cy="1247.2" r="5.6" fill="url(#gH)"/>
<circle cx="531.9" cy="1252.5" r="6.0" fill="url(#gH)"/>
<circle cx="559.8" cy="1236.9" r="7.2" fill="url(#gO)"/>
<circle cx="583.1" cy="1209.0" r="6.0" fill="url(#gH)"/>
<circle cx="580.0" cy="1227.5" r="9.4" fill="url(#gC)"/>
<circle cx="575.6" cy="1245.6" r="9.0" fill="url(#gC)"/>
<circle cx="585.0" cy="1234.4" r="6.0" fill="url(#gH)"/>
<circle cx="591.9" cy="1248.1" r="5.2" fill="url(#gH)"/>
<circle cx="570.0" cy="1263.5" r="6.0" fill="url(#gH)"/>
</g>
<g>
<line x1="591.2" y1="1016.8" x2="596.6" y2="1006.8" stroke="#5a5a5a" stroke-width="2.7"/>
<line x1="596.6" y1="1006.8" x2="600.4" y2="999.9" stroke="#b4b4b4" stroke-width="2.7"/>
<line x1="580.4" y1="1021.1" x2="573.2" y2="1029.1" stroke="#5a5a5a" stroke-width="2.7"/>
<line x1="573.2" y1="1029.1" x2="567.9" y2="1034.9" stroke="#b4b4b4" stroke-width="2.7"/>
<line x1="591.2" y1="1016.8" x2="599.1" y2="1029.9" stroke="#5a5a5a" stroke-width="3.4"/>
<line x1="599.1" y1="1029.9" x2="607.9" y2="1037.4" stroke="#5a5a5a" stroke-width="3.4"/>
<line x1="617.9" y1="1041.5" x2="617.9" y2="1050.2" stroke="#e01010" stroke-width="2.7"/>
<line x1="617.9" y1="1050.2" x2="617.9" y2="1058.6" stroke="#b4b4b4" stroke-width="2.7"/>
<line x1="607.9" y1="1037.4" x2="603.2" y2="1046.6" stroke="#5a5a5a" stroke-width="2.7"/>
<line x1="603.2" y1="1046.6" x2="599.8" y2="1053.2" stroke="#b4b4b4" stroke-width="2.7"/>
<line x1="580.4" y1="1021.1" x2="576.2" y2="1013.0" stroke="#5a5a5a" stroke-width="2.7"/>
<line x1="576.2" y1="1013.0" x2="573.5" y2="1007.8" stroke="#b4b4b4" stroke-width="2.7"/>
<line x1="591.2" y1="1016.8" x2="607.9" y2="1037.4" stroke="#5a5a5a" stroke-width="3.4"/>
<circle cx="595.8" cy="1040.8" r="4.0" fill="url(#gH)"/>
<circle cx="580.4" cy="1021.1" r="8.1" fill="url(#gC)"/>
<circle cx="599.1" cy="1029.9" r="6.9" fill="url(#gC)"/>
<circle cx="600.4" cy="999.9" r="5.2" fill="url(#gH)"/>
<circle cx="573.5" cy="1007.8" r="5.0" fill="url(#gH)"/>
<circle cx="577.5" cy="1015.8" r="5.6" fill="url(#gH)"/>
<circle cx="591.2" cy="1016.8" r="8.8" fill="url(#gC)"/>
<circle cx="567.9" cy="1034.9" r="5.2" fill="url(#gH)"/>
<circle cx="609.5" cy="1017.4" r="4.4" fill="url(#gH)"/>
<circle cx="617.9" cy="1041.5" r="5.2" fill="url(#gO)"/>
<circle cx="607.9" cy="1037.4" r="8.1" fill="url(#gC)"/>
<circle cx="625.0" cy="1033.6" r="5.2" fill="url(#gH)"/>
<circle cx="599.8" cy="1053.2" r="5.2" fill="url(#gH)"/>
<circle cx="617.9" cy="1058.6" r="5.0" fill="url(#gH)"/>
</g>
<g>
<line x1="633.8" y1="1079.4" x2="643.9" y2="1079.7" stroke="#5a5a5a" stroke-width="3.4"/>
<line x1="643.9" y1="1079.7" x2="653.1" y2="1080.0" stroke="#e01010" stroke-width="3.4"/>
<line x1="653.1" y1="1080.0" x2="659.0" y2="1082.5" stroke="#e01010" stroke-width="3.4"/>
<line x1="659.0" y1="1082.5" x2="666.2" y2="1085.6" stroke="#5a5a5a" stroke-width="3.4"/>
<line x1="620.0" y1="1080.6" x2="633.8" y2="1079.4" stroke="#5a5a5a" stroke-width="3.4"/>
<line x1="620.0" y1="1080.6" x2="611.0" y2="1082.4" stroke="#5a5a5a" stroke-width="2.7"/>
<line x1="611.0" y1="1082.4" x2="604.4" y2="1083.8" stroke="#b4b4b4" stroke-width="2.7"/>
<line x1="668.8" y1="1067.5" x2="670.1" y2="1058.0" stroke="#5a5a5a" stroke-width="2.7"/>
<line x1="670.1" y1="1058.0" x2="671.0" y2="1051.2" stroke="#b4b4b4" stroke-width="2.7"/>
<line x1="668.8" y1="1067.5" x2="666.2" y2="1085.6" stroke="#5a5a5a" stroke-width="3.4"/>
<line x1="666.2" y1="1085.6" x2="675.2" y2="1087.5" stroke="#5a5a5a" stroke-width="2.7"/>
<line x1="675.2" y1="1087.5" x2="681.2" y2="1088.8" stroke="#b4b4b4" stroke-width="2.7"/>
<line x1="666.2" y1="1085.6" x2="662.4" y2="1094.1" stroke="#5a5a5a" stroke-width="2.7"/>
<line x1="662.4" y1="1094.1" x2="659.8" y2="1100.0" stroke="#b4b4b4" stroke-width="2.7"/>
<circle cx="627.5" cy="1074.4" r="3.5" fill="url(#gH)"/>
<circle cx="604.4" cy="1083.8" r="4.8" fill="url(#gH)"/>
<circle cx="620.0" cy="1080.6" r="7.2" fill="url(#gC)"/>
<circle cx="633.8" cy="1079.4" r="7.2" fill="url(#gC)"/>
<circle cx="624.8" cy="1088.1" r="4.8" fill="url(#gH)"/>
<circle cx="653.1" cy="1080.0" r="6.2" fill="url(#gO)"/>
<circle cx="671.0" cy="1051.2" r="5.0" fill="url(#gH)"/>
<circle cx="668.8" cy="1067.5" r="7.8" fill="url(#gC)"/>
<circle cx="666.2" cy="1085.6" r="7.8" fill="url(#gC)"/>
<circle cx="675.0" cy="1070.0" r="4.8" fill="url(#gH)"/>
<circle cx="681.2" cy="1088.8" r="4.8" fill="url(#gH)"/>
<circle cx="659.8" cy="1100.0" r="5.0" fill="url(#gH)"/>
</g>
<g>
<line x1="731.9" y1="1169.4" x2="730.4" y2="1158.8" stroke="#5a5a5a" stroke-width="2.7"/>
<line x1="730.4" y1="1158.8" x2="729.4" y2="1151.0" stroke="#b4b4b4" stroke-width="2.7"/>
<line x1="731.9" y1="1169.4" x2="759.4" y2="1178.8" stroke="#5a5a5a" stroke-width="3.4"/>
<line x1="759.4" y1="1178.8" x2="767.2" y2="1171.0" stroke="#5a5a5a" stroke-width="2.7"/>
<line x1="767.2" y1="1171.0" x2="772.5" y2="1165.6" stroke="#b4b4b4" stroke-width="2.7"/>
<line x1="759.4" y1="1178.8" x2="761.7" y2="1190.2" stroke="#5a5a5a" stroke-width="3.4"/>
<line x1="761.7" y1="1190.2" x2="763.8" y2="1200.6" stroke="#e01010" stroke-width="3.4"/>
<line x1="726.2" y1="1180.0" x2="742.5" y2="1206.2" stroke="#5a5a5a" stroke-width="3.4"/>
<line x1="742.5" y1="1206.2" x2="753.9" y2="1203.2" stroke="#5a5a5a" stroke-width="3.4"/>
<line x1="753.9" y1="1203.2" x2="763.8" y2="1200.6" stroke="#e01010" stroke-width="3.4"/>
<line x1="726.2" y1="1180.0" x2="712.8" y2="1181.8" stroke="#5a5a5a" stroke-width="2.7"/>
<line x1="712.8" y1="1181.8" x2="703.1" y2="1183.1" stroke="#b4b4b4" stroke-width="2.7"/>
<line x1="742.5" y1="1206.2" x2="735.4" y2="1214.8" stroke="#5a5a5a" stroke-width="2.7"/>
<line x1="735.4" y1="1214.8" x2="730.2" y2="1221.0" stroke="#b4b4b4" stroke-width="2.7"/>
<circle cx="731.9" cy="1169.4" r="8.8" fill="url(#gC)"/>
<circle cx="729.4" cy="1151.0" r="6.0" fill="url(#gH)"/>
<circle cx="734.8" cy="1166.2" r="6.2" fill="url(#gH)"/>
<circle cx="759.4" cy="1178.8" r="8.8" fill="url(#gC)"/>
<circle cx="772.5" cy="1165.6" r="5.2" fill="url(#gH)"/>
<circle cx="726.2" cy="1180.0" r="10.2" fill="url(#gC)"/>
<circle cx="703.1" cy="1183.1" r="6.5" fill="url(#gH)"/>
<circle cx="742.5" cy="1206.2" r="9.4" fill="url(#gC)"/>
<circle cx="763.8" cy="1200.6" r="7.8" fill="url(#gO)"/>
<circle cx="751.2" cy="1213.1" r="6.2" fill="url(#gH)"/>
<circle cx="730.2" cy="1221.0" r="6.2" fill="url(#gH)"/>
</g>
<g>
<line x1="777.5" y1="1240.6" x2="799.4" y2="1236.0" stroke="#5a5a5a" stroke-width="3.4"/>
<line x1="799.4" y1="1236.0" x2="808.6" y2="1235.4" stroke="#5a5a5a" stroke-width="3.4"/>
<line x1="808.6" y1="1235.4" x2="815.0" y2="1235.0" stroke="#e01010" stroke-width="3.4"/>
<line x1="777.5" y1="1240.6" x2="776.4" y2="1248.9" stroke="#5a5a5a" stroke-width="2.7"/>
<line x1="776.4" y1="1248.9" x2="775.6" y2="1254.8" stroke="#b4b4b4" stroke-width="2.7"/>
<line x1="821.0" y1="1219.0" x2="810.8" y2="1213.6" stroke="#5a5a5a" stroke-width="2.7"/>
<line x1="810.8" y1="1213.6" x2="803.5" y2="1209.8" stroke="#b4b4b4" stroke-width="2.7"/>
<line x1="821.0" y1="1219.0" x2="831.4" y2="1213.9" stroke="#5a5a5a" stroke-width="2.7"/>
<line x1="831.4" y1="1213.9" x2="838.8" y2="1210.2" stroke="#b4b4b4" stroke-width="2.7"/>
<line x1="821.0" y1="1219.0" x2="821.2" y2="1242.2" stroke="#5a5a5a" stroke-width="3.4"/>
<line x1="821.2" y1="1242.2" x2="812.8" y2="1249.5" stroke="#5a5a5a" stroke-width="2.7"/>
<line x1="812.8" y1="1249.5" x2="806.5" y2="1255.0" stroke="#b4b4b4" stroke-width="2.7"/>
<line x1="821.2" y1="1242.2" x2="831.1" y2="1247.3" stroke="#5a5a5a" stroke-width="2.7"/>
<line x1="831.1" y1="1247.3" x2="838.1" y2="1251.0" stroke="#b4b4b4" stroke-width="2.7"/>
<line x1="777.5" y1="1240.6" x2="769.4" y2="1241.8" stroke="#5a5a5a" stroke-width="2.7"/>
<line x1="769.4" y1="1241.8" x2="765.0" y2="1242.5" stroke="#b4b4b4" stroke-width="2.7"/>
<circle cx="765.0" cy="1242.5" r="4.4" fill="url(#gH)"/>
<circle cx="815.0" cy="1235.0" r="5.2" fill="url(#gO)"/>
<circle cx="771.2" cy="1226.0" r="5.2" fill="url(#gH)"/>
<circle cx="777.5" cy="1240.6" r="8.1" fill="url(#gC)"/>
<circle cx="775.6" cy="1254.8" r="5.6" fill="url(#gH)"/>
<circle cx="799.4" cy="1236.0" r="8.1" fill="url(#gC)"/>
<circle cx="803.5" cy="1209.8" r="5.6" fill="url(#gH)"/>
<circle cx="838.8" cy="1210.2" r="5.6" fill="url(#gH)"/>
<circle cx="821.0" cy="1219.0" r="9.0" fill="url(#gC)"/>
<circle cx="821.2" cy="1242.2" r="8.8" fill="url(#gC)"/>
<circle cx="806.5" cy="1255.0" r="6.0" fill="url(#gH)"/>
<circle cx="838.1" cy="1251.0" r="5.6" fill="url(#gH)"/>
<circle cx="769.8" cy="1222.2" r="11.2" fill="none" stroke="#00aeef" stroke-width="2.7" stroke-dasharray="2.7 2.3"/><path d="M795.0 1226.9 Q783.8 1218.1 773.7 1220.1" fill="none" stroke="#00aeef" stroke-width="2.9" stroke-linecap="butt"/><polygon points="769.0,1221.0 777.4,1214.3 776.5,1219.5 779.3,1224.1" fill="#00aeef"/>
</g>
<g>
<line x1="846.2" y1="960.4" x2="853.8" y2="979.1" stroke="#5a5a5a" stroke-width="3.4"/>
<line x1="857.5" y1="957.2" x2="853.8" y2="979.1" stroke="#5a5a5a" stroke-width="3.4"/>
<line x1="846.2" y1="960.4" x2="838.0" y2="958.9" stroke="#5a5a5a" stroke-width="2.7"/>
<line x1="838.0" y1="958.9" x2="831.9" y2="957.9" stroke="#b4b4b4" stroke-width="2.7"/>
<line x1="857.5" y1="957.2" x2="867.9" y2="956.4" stroke="#5a5a5a" stroke-width="2.7"/>
<line x1="867.9" y1="956.4" x2="875.0" y2="955.8" stroke="#b4b4b4" stroke-width="2.7"/>
<line x1="857.5" y1="957.2" x2="853.9" y2="948.9" stroke="#5a5a5a" stroke-width="2.7"/>
<line x1="853.9" y1="948.9" x2="851.5" y2="943.2" stroke="#b4b4b4" stroke-width="2.7"/>
<line x1="853.8" y1="979.1" x2="843.9" y2="979.9" stroke="#5a5a5a" stroke-width="2.7"/>
<line x1="843.9" y1="979.9" x2="836.9" y2="980.4" stroke="#b4b4b4" stroke-width="2.7"/>
<circle cx="840.6" cy="987.2" r="3.5" fill="url(#gH)"/>
<circle cx="865.0" cy="981.0" r="3.5" fill="url(#gH)"/>
<circle cx="851.5" cy="943.2" r="5.2" fill="url(#gH)"/>
<circle cx="846.2" cy="960.4" r="6.9" fill="url(#gC)"/>
<circle cx="831.9" cy="957.9" r="4.8" fill="url(#gH)"/>
<circle cx="857.5" cy="957.2" r="8.1" fill="url(#gC)"/>
<circle cx="875.0" cy="955.8" r="4.8" fill="url(#gH)"/>
<circle cx="851.5" cy="992.9" r="6.5" fill="url(#gO)"/>
<circle cx="853.8" cy="979.1" r="8.1" fill="url(#gC)"/>
<circle cx="836.9" cy="980.4" r="5.2" fill="url(#gH)"/>
<circle cx="866.5" cy="987.0" r="5.0" fill="url(#gH)"/>
</g>
<g>
<line x1="827.0" y1="1030.6" x2="835.0" y2="1028.4" stroke="#5a5a5a" stroke-width="1.7"/>
<line x1="835.0" y1="1028.4" x2="841.8" y2="1026.5" stroke="#e01010" stroke-width="1.7"/>
<line x1="828.0" y1="1033.9" x2="835.9" y2="1031.7" stroke="#5a5a5a" stroke-width="1.7"/>
<line x1="835.9" y1="1031.7" x2="842.7" y2="1029.8" stroke="#e01010" stroke-width="1.7"/>
<line x1="827.5" y1="1032.2" x2="824.0" y2="1043.8" stroke="#5a5a5a" stroke-width="3.4"/>
<line x1="824.0" y1="1043.8" x2="833.0" y2="1046.0" stroke="#5a5a5a" stroke-width="2.7"/>
<line x1="833.0" y1="1046.0" x2="839.4" y2="1047.5" stroke="#b4b4b4" stroke-width="2.7"/>
<line x1="824.0" y1="1043.8" x2="818.8" y2="1051.7" stroke="#5a5a5a" stroke-width="2.7"/>
<line x1="818.8" y1="1051.7" x2="815.0" y2="1057.5" stroke="#b4b4b4" stroke-width="2.7"/>
<circle cx="815.6" cy="1027.8" r="4.0" fill="url(#gH)"/>
<circle cx="827.5" cy="1032.2" r="6.9" fill="url(#gC)"/>
<circle cx="842.2" cy="1028.1" r="5.6" fill="url(#gO)"/>
<circle cx="813.8" cy="1034.4" r="4.8" fill="url(#gH)"/>
<circle cx="824.0" cy="1043.8" r="7.5" fill="url(#gC)"/>
<circle cx="839.4" cy="1047.5" r="4.8" fill="url(#gH)"/>
<circle cx="815.0" cy="1057.5" r="5.0" fill="url(#gH)"/>
</g>
<g>
<line x1="875.1" y1="1029.3" x2="879.8" y2="1047.7" stroke="#5a5a5a" stroke-width="1.7"/>
<line x1="871.9" y1="1030.2" x2="876.5" y2="1048.5" stroke="#5a5a5a" stroke-width="1.7"/>
<line x1="873.5" y1="1029.8" x2="872.0" y2="1022.6" stroke="#5a5a5a" stroke-width="2.7"/>
<line x1="872.0" y1="1022.6" x2="871.0" y2="1017.5" stroke="#b4b4b4" stroke-width="2.7"/>
<circle cx="871.0" cy="1017.5" r="4.8" fill="url(#gH)"/>
<circle cx="873.5" cy="1029.8" r="6.9" fill="url(#gC)"/>
<circle cx="878.1" cy="1048.1" r="7.2" fill="url(#gC)"/>
<circle cx="879.4" cy="1051.2" r="4.4" fill="url(#gH)"/>
<circle cx="882.5" cy="1058.8" r="4.4" fill="url(#gH)"/>
</g>
<g>
<line x1="898.0" y1="1154.9" x2="905.8" y2="1149.0" stroke="#5a5a5a" stroke-width="1.7"/>
<line x1="905.8" y1="1149.0" x2="912.6" y2="1143.9" stroke="#e01010" stroke-width="1.7"/>
<line x1="900.0" y1="1157.6" x2="907.8" y2="1151.7" stroke="#5a5a5a" stroke-width="1.7"/>
<line x1="907.8" y1="1151.7" x2="914.6" y2="1146.6" stroke="#e01010" stroke-width="1.7"/>
<line x1="899.0" y1="1156.2" x2="889.5" y2="1152.1" stroke="#5a5a5a" stroke-width="2.7"/>
<line x1="889.5" y1="1152.1" x2="882.4" y2="1149.0" stroke="#b4b4b4" stroke-width="2.7"/>
<line x1="899.0" y1="1156.2" x2="899.9" y2="1178.8" stroke="#5a5a5a" stroke-width="3.4"/>
<line x1="899.9" y1="1178.8" x2="908.7" y2="1181.1" stroke="#5a5a5a" stroke-width="2.7"/>
<line x1="908.7" y1="1181.1" x2="914.9" y2="1182.8" stroke="#b4b4b4" stroke-width="2.7"/>
<circle cx="889.2" cy="1181.2" r="3.8" fill="url(#gH)"/>
<circle cx="882.4" cy="1149.0" r="5.2" fill="url(#gH)"/>
<circle cx="899.0" cy="1156.2" r="7.8" fill="url(#gC)"/>
<circle cx="913.6" cy="1145.2" r="6.5" fill="url(#gO)"/>
<circle cx="899.9" cy="1178.8" r="7.5" fill="url(#gC)"/>
<circle cx="891.1" cy="1188.5" r="5.2" fill="url(#gH)"/>
<circle cx="914.9" cy="1182.8" r="4.8" fill="url(#gH)"/>
</g>
<g>
<line x1="958.2" y1="1142.5" x2="944.2" y2="1156.9" stroke="#5a5a5a" stroke-width="3.4"/>
<line x1="958.2" y1="1142.5" x2="976.8" y2="1151.2" stroke="#5a5a5a" stroke-width="3.4"/>
<line x1="944.2" y1="1156.9" x2="948.3" y2="1165.0" stroke="#5a5a5a" stroke-width="3.4"/>
<line x1="948.3" y1="1165.0" x2="952.0" y2="1172.2" stroke="#e01010" stroke-width="3.4"/>
<line x1="952.0" y1="1172.2" x2="960.6" y2="1171.2" stroke="#e01010" stroke-width="3.4"/>
<line x1="960.6" y1="1171.2" x2="970.5" y2="1170.0" stroke="#5a5a5a" stroke-width="3.4"/>
<line x1="976.8" y1="1151.2" x2="970.5" y2="1170.0" stroke="#5a5a5a" stroke-width="3.4"/>
<line x1="958.2" y1="1142.5" x2="956.0" y2="1136.0" stroke="#5a5a5a" stroke-width="2.7"/>
<line x1="956.0" y1="1136.0" x2="954.5" y2="1131.5" stroke="#b4b4b4" stroke-width="2.7"/>
<line x1="944.2" y1="1156.9" x2="937.1" y2="1154.9" stroke="#5a5a5a" stroke-width="2.7"/>
<line x1="937.1" y1="1154.9" x2="932.0" y2="1153.5" stroke="#b4b4b4" stroke-width="2.7"/>
<line x1="976.8" y1="1151.2" x2="983.5" y2="1146.4" stroke="#5a5a5a" stroke-width="2.7"/>
<line x1="983.5" y1="1146.4" x2="988.0" y2="1143.1" stroke="#b4b4b4" stroke-width="2.7"/>
<line x1="970.5" y1="1170.0" x2="975.4" y2="1176.9" stroke="#5a5a5a" stroke-width="2.7"/>
<line x1="975.4" y1="1176.9" x2="979.0" y2="1181.9" stroke="#b4b4b4" stroke-width="2.7"/>
<circle cx="939.0" cy="1159.8" r="3.1" fill="url(#gH)"/>
<circle cx="983.6" cy="1155.0" r="3.1" fill="url(#gH)"/>
<circle cx="954.5" cy="1131.5" r="4.8" fill="url(#gH)"/>
<circle cx="958.2" cy="1142.5" r="6.9" fill="url(#gC)"/>
<circle cx="944.2" cy="1156.9" r="6.9" fill="url(#gC)"/>
<circle cx="932.0" cy="1153.5" r="4.8" fill="url(#gH)"/>
<circle cx="976.8" cy="1151.2" r="7.5" fill="url(#gC)"/>
<circle cx="988.0" cy="1143.1" r="4.8" fill="url(#gH)"/>
<circle cx="952.0" cy="1172.2" r="6.0" fill="url(#gO)"/>
<circle cx="970.5" cy="1170.0" r="7.2" fill="url(#gC)"/>
<circle cx="971.1" cy="1168.8" r="5.6" fill="url(#gH)"/>
<circle cx="979.0" cy="1181.9" r="5.0" fill="url(#gH)"/>
</g>
<g>
<line x1="971.9" y1="1228.7" x2="972.4" y2="1251.8" stroke="#5a5a5a" stroke-width="1.7"/>
<line x1="968.6" y1="1228.8" x2="969.1" y2="1251.9" stroke="#5a5a5a" stroke-width="1.7"/>
<line x1="970.2" y1="1228.8" x2="960.9" y2="1223.6" stroke="#5a5a5a" stroke-width="2.7"/>
<line x1="960.9" y1="1223.6" x2="954.0" y2="1219.8" stroke="#b4b4b4" stroke-width="2.7"/>
<line x1="970.2" y1="1228.8" x2="979.9" y2="1223.4" stroke="#5a5a5a" stroke-width="2.7"/>
<line x1="979.9" y1="1223.4" x2="987.0" y2="1219.4" stroke="#b4b4b4" stroke-width="2.7"/>
<line x1="970.8" y1="1251.9" x2="962.2" y2="1257.2" stroke="#5a5a5a" stroke-width="2.7"/>
<line x1="962.2" y1="1257.2" x2="955.8" y2="1261.2" stroke="#b4b4b4" stroke-width="2.7"/>
<line x1="970.8" y1="1251.9" x2="980.2" y2="1256.6" stroke="#5a5a5a" stroke-width="2.7"/>
<line x1="980.2" y1="1256.6" x2="987.4" y2="1260.2" stroke="#b4b4b4" stroke-width="2.7"/>
<circle cx="970.2" cy="1228.8" r="8.5" fill="url(#gC)"/>
<circle cx="970.8" cy="1251.9" r="8.1" fill="url(#gC)"/>
<circle cx="954.0" cy="1219.8" r="5.6" fill="url(#gH)"/>
<circle cx="987.0" cy="1219.4" r="5.6" fill="url(#gH)"/>
<circle cx="955.8" cy="1261.2" r="5.6" fill="url(#gH)"/>
<circle cx="987.4" cy="1260.2" r="5.6" fill="url(#gH)"/>
</g>
</svg>
</body></html>
